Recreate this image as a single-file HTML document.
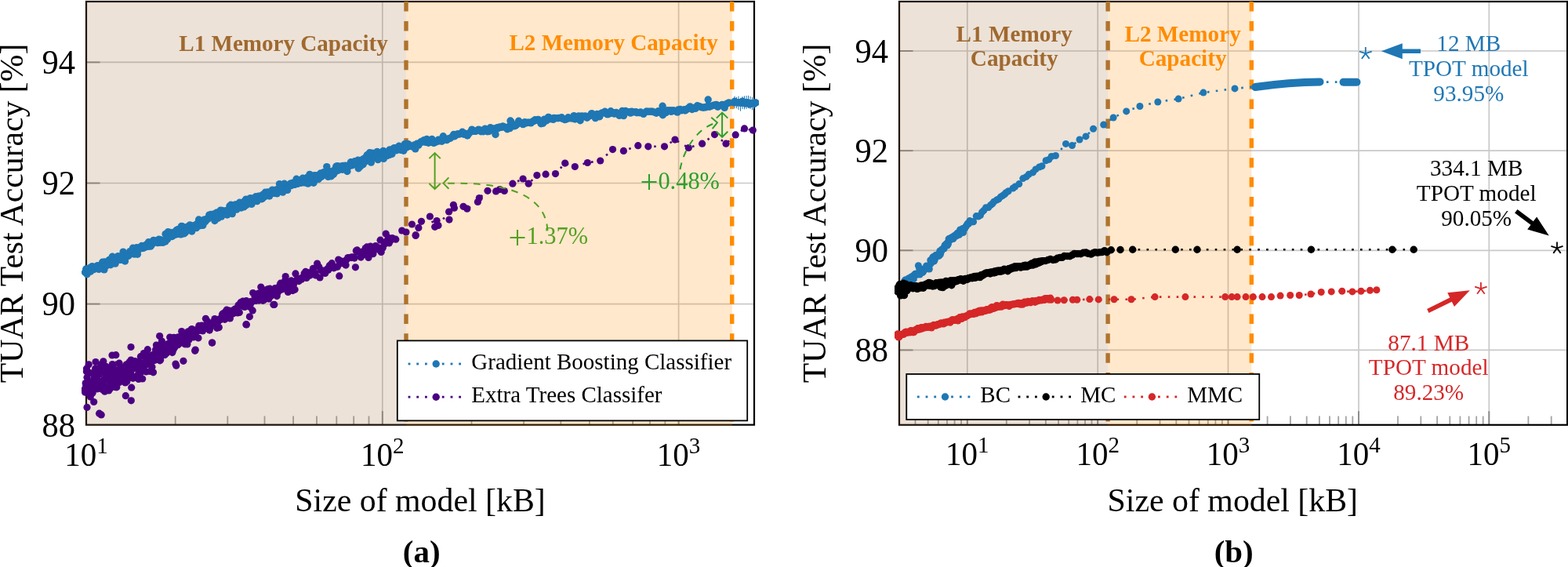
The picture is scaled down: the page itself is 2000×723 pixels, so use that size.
<!DOCTYPE html>
<html lang="en"><head><meta charset="utf-8"><title>TUAR Test Accuracy vs model size</title>
<style>html,body{margin:0;padding:0;background:#fff;width:2000px;height:723px;overflow:hidden}svg{display:block}</style>
</head><body>
<svg width="2000" height="723" viewBox="0 0 2000 723">
<rect x="0" y="0" width="2000" height="723" fill="#ffffff"/>
<g stroke="#c9c9c9" stroke-width="1.7"><line x1="110.0" y1="387.6" x2="962.0" y2="387.6"/><line x1="110.0" y1="233.5" x2="962.0" y2="233.5"/><line x1="110.0" y1="79.4" x2="962.0" y2="79.4"/><line x1="487.8" y1="2.0" x2="487.8" y2="541.7"/><line x1="865.6" y1="2.0" x2="865.6" y2="541.7"/></g>
<g stroke="#8a8a8a" stroke-width="1.9"><line x1="110.0" y1="387.6" x2="127.5" y2="387.6"/><line x1="110.0" y1="233.5" x2="127.5" y2="233.5"/><line x1="110.0" y1="79.4" x2="127.5" y2="79.4"/><line x1="487.8" y1="541.7" x2="487.8" y2="524.2"/><line x1="865.6" y1="541.7" x2="865.6" y2="524.2"/></g><g stroke="#a3a3a3" stroke-width="1.8"><line x1="223.7" y1="541.7" x2="223.7" y2="530.5"/><line x1="290.3" y1="541.7" x2="290.3" y2="530.5"/><line x1="337.5" y1="541.7" x2="337.5" y2="530.5"/><line x1="374.1" y1="541.7" x2="374.1" y2="530.5"/><line x1="404.0" y1="541.7" x2="404.0" y2="530.5"/><line x1="429.3" y1="541.7" x2="429.3" y2="530.5"/><line x1="451.2" y1="541.7" x2="451.2" y2="530.5"/><line x1="470.5" y1="541.7" x2="470.5" y2="530.5"/><line x1="601.5" y1="541.7" x2="601.5" y2="530.5"/><line x1="668.1" y1="541.7" x2="668.1" y2="530.5"/><line x1="715.3" y1="541.7" x2="715.3" y2="530.5"/><line x1="751.9" y1="541.7" x2="751.9" y2="530.5"/><line x1="781.8" y1="541.7" x2="781.8" y2="530.5"/><line x1="807.1" y1="541.7" x2="807.1" y2="530.5"/><line x1="829.0" y1="541.7" x2="829.0" y2="530.5"/><line x1="848.3" y1="541.7" x2="848.3" y2="530.5"/></g>
<rect x="110.0" y="2.0" width="852.0" height="539.7" fill="none" stroke="#000" stroke-width="2.2"/>
<rect x="108.8" y="0.8" width="409.20" height="542.1" fill="rgb(160,110,60)" fill-opacity="0.2"/><rect x="518.00" y="0.8" width="415.75" height="542.1" fill="rgb(255,140,0)" fill-opacity="0.2"/>
<text transform="translate(228.30 64.50) scale(0.9670 1)" font-weight="bold" font-family="'Liberation Serif', 'Times New Roman', serif" font-size="30.09" fill="#a0692f">L1 Memory Capacity</text>
<text transform="translate(649.50 63.90) scale(0.9670 1)" font-weight="bold" font-family="'Liberation Serif', 'Times New Roman', serif" font-size="30.06" fill="#ff8c00">L2 Memory Capacity</text>
<line x1="518.00" y1="2.0" x2="518.00" y2="541.7" stroke="#af732d" stroke-width="5.4" stroke-dasharray="12.5 12.4"/>
<line x1="933.70" y1="2.0" x2="933.70" y2="541.7" stroke="#ff8c00" stroke-width="5.4" stroke-dasharray="12.5 12.4"/>
<clipPath id="clipA"><rect x="104.0" y="2.0" width="864.0" height="539.7"/></clipPath>
<g clip-path="url(#clipA)">
<path d="M108.6 347.2 L109.8 343.3 L110.3 342.9 L111.0 349.7 L112.8 343.2 L113.3 346.0 L114.3 341.8 L115.5 346.3 L117.0 342.3 L117.6 339.6 L118.2 342.6 L119.6 343.6 L120.0 342.1 L121.5 340.6 L122.6 342.2 L123.5 340.1 L124.2 338.9 L125.2 338.6 L126.0 343.4 L127.2 340.0 L128.9 339.9 L129.8 339.5 L130.7 334.2 L131.5 338.9 L132.9 343.9 L133.6 334.0 L134.4 339.0 L135.2 338.9 L136.4 338.3 L137.6 333.8 L138.6 333.9 L139.2 331.5 L140.2 334.0 L141.1 337.7 L142.2 331.3 L143.3 327.2 L144.7 332.3 L145.8 334.1 L146.9 330.5 L147.1 336.1 L148.9 329.8 L149.2 330.2 L150.6 326.6 L151.4 328.3 L152.2 331.2 L153.9 330.6 L154.5 331.4 L155.8 329.5 L156.4 328.6 L157.1 321.1 L158.7 323.9 L159.5 333.0 L160.3 324.1 L161.7 326.9 L162.5 324.5 L163.9 326.1 L164.9 323.9 L165.8 320.6 L166.1 321.1 L167.8 323.6 L168.6 320.9 L169.5 316.3 L170.2 323.1 L171.4 324.1 L172.3 323.4 L173.6 323.0 L174.3 315.8 L175.4 324.2 L176.5 318.6 L177.9 315.8 L178.6 316.8 L179.9 315.4 L180.9 313.4 L181.4 316.6 L183.0 316.3 L183.8 314.9 L184.7 315.5 L185.3 314.2 L186.2 312.3 L187.2 312.2 L188.8 314.4 L189.5 308.8 L190.7 310.6 L192.0 314.1 L192.6 311.8 L193.2 312.7 L194.4 310.3 L195.8 306.4 L196.1 308.4 L197.8 309.0 L198.5 307.2 L199.0 307.6 L200.0 308.1 L201.2 309.6 L202.6 305.3 L203.6 309.4 L204.7 305.7 L205.3 308.2 L206.5 308.1 L207.7 309.4 L208.2 307.3 L209.0 306.9 L211.0 308.0 L211.1 298.4 L212.3 299.9 L213.6 304.9 L214.3 295.8 L215.8 301.6 L216.8 301.2 L217.2 296.4 L218.6 297.4 L219.1 301.6 L220.6 300.7 L221.8 297.0 L222.7 296.0 L223.9 295.8 L224.0 299.1 L225.2 293.4 L226.9 296.7 L227.3 292.4 L228.7 298.5 L229.4 296.2 L230.7 298.9 L231.4 288.5 L232.5 288.8 L233.2 292.3 L234.5 297.9 L235.8 289.9 L236.3 296.6 L237.8 292.7 L238.1 292.6 L239.1 293.7 L240.3 288.5 L241.8 288.9 L242.2 287.0 L243.9 290.1 L244.7 295.0 L245.7 288.0 L246.8 290.0 L247.4 289.4 L248.5 288.3 L249.2 286.9 L250.5 290.6 L251.9 286.3 L252.2 284.5 L253.6 280.0 L255.0 287.7 L255.8 286.3 L256.4 284.7 L257.2 283.0 L258.8 287.4 L259.4 282.3 L260.4 280.1 L261.8 282.8 L262.4 280.0 L263.7 280.2 L264.8 278.6 L265.4 278.9 L266.8 274.1 L267.1 276.1 L268.8 275.5 L269.1 273.5 L271.0 275.8 L271.6 277.1 L272.8 273.0 L273.9 281.5 L274.8 274.5 L275.5 275.7 L276.3 271.1 L277.7 271.1 L278.1 278.2 L279.9 274.5 L280.2 272.1 L281.2 268.2 L282.5 276.1 L283.2 268.5 L284.5 269.3 L285.7 269.6 L286.5 270.8 L287.5 269.3 L288.5 268.7 L289.8 274.0 L290.2 268.4 L291.1 269.0 L292.9 262.8 L294.0 268.8 L294.5 261.3 L295.9 264.0 L296.3 272.6 L297.1 263.2 L298.5 264.9 L299.8 261.2 L300.8 260.9 L301.8 267.1 L302.7 262.2 L303.2 263.1 L304.2 262.1 L305.6 258.3 L306.9 261.6 L307.5 265.0 L309.0 259.1 L309.8 262.3 L310.8 263.9 L311.6 256.9 L312.4 262.7 L313.7 254.1 L314.3 261.4 L315.2 258.1 L316.8 255.3 L317.7 257.8 L319.0 255.8 L319.4 252.6 L320.5 260.1 L321.1 260.1 L322.6 253.1 L323.0 254.6 L324.6 253.7 L325.1 254.2 L326.2 250.8 L327.9 256.6 L328.5 253.7 L329.7 250.2 L330.8 251.2 L331.6 250.2 L332.7 251.5 L333.4 253.7 L334.4 253.5 L335.4 248.1 L336.8 251.1 L337.3 248.1 L338.4 245.3 L339.8 246.8 L340.7 249.6 L341.9 244.9 L342.6 247.0 L343.7 250.0 L344.4 246.5 L345.3 246.1 L346.4 245.1 L347.4 242.1 L348.6 246.0 L349.9 246.3 L350.3 246.3 L351.5 242.4 L352.1 242.2 L353.2 246.9 L354.8 241.0 L355.5 242.5 L356.5 234.6 L357.5 239.3 L358.3 238.9 L359.8 236.9 L360.7 245.1 L361.4 239.4 L362.7 234.3 L363.6 239.5 L364.6 238.9 L365.5 238.7 L366.6 242.4 L368.0 237.6 L368.3 237.7 L369.1 235.4 L370.8 233.9 L371.2 236.6 L372.3 236.0 L373.5 233.3 L374.7 234.1 L375.8 235.3 L376.3 235.3 L377.4 232.9 L378.1 228.3 L379.6 234.4 L380.1 232.5 L381.3 230.6 L382.0 231.7 L383.2 229.4 L384.0 233.3 L385.3 231.2 L386.2 227.3 L387.4 232.7 L388.8 232.8 L389.9 230.6 L390.7 232.4 L391.7 226.4 L392.8 234.1 L394.0 231.0 L394.1 233.1 L395.0 222.4 L396.9 225.0 L397.6 227.2 L398.7 227.6 L400.0 233.3 L400.3 227.6 L401.0 223.8 L402.7 228.1 L403.9 226.7 L404.3 223.8 L405.1 227.9 L406.3 228.4 L407.9 223.6 L408.9 221.0 L409.9 225.4 L410.0 224.5 L411.2 221.9 L412.8 219.7 L413.2 221.1 L414.9 222.7 L415.7 221.2 L416.8 212.6 L417.5 222.3 L418.6 225.4 L419.1 221.0 L420.8 221.8 L421.3 219.2 L422.5 224.8 L423.3 218.5 L424.6 222.2 L425.4 222.3 L426.7 216.9 L427.0 219.7 L428.7 212.2 L429.7 217.4 L430.5 211.6 L431.4 217.3 L432.3 214.2 L433.2 214.6 L434.2 212.3 L435.5 215.3 L436.7 216.3 L437.3 211.4 L438.5 212.7 L439.1 214.2 L440.5 211.3 L441.1 216.6 L442.9 218.5 L443.0 213.1 L444.4 211.7 L445.1 212.2 L446.8 208.8 L447.5 206.7 L448.3 208.4 L449.4 210.8 L450.1 208.9 L452.0 206.5 L452.6 205.8 L453.6 208.4 L454.6 207.1 L455.6 209.8 L456.6 204.2 L457.2 214.7 L458.8 206.1 L459.5 212.3 L460.4 204.7 L461.4 206.9 L462.7 203.3 L463.1 209.8 L464.9 206.1 L465.2 201.8 L466.8 202.8 L467.0 205.4 L468.2 197.8 L469.9 200.1 L470.2 200.4 L471.5 194.8 L472.4 202.2 L473.4 207.1 L474.8 195.2 L475.8 196.6 L476.8 200.2 L477.9 200.6 L478.5 200.2 L479.5 198.0 L480.1 197.1 L481.1 193.4 L482.1 203.6 L483.4 201.6 L484.3 195.3 L485.3 196.8 L486.3 195.7 L487.8 194.8 L488.9 192.4 L489.3 202.4 L490.3 194.5 L491.4 196.9 L492.9 193.6 L493.7 194.8 L494.1 198.5 L495.7 193.6 L496.9 197.4 L497.1 190.9 L498.9 194.4 L499.9 196.4 L500.1 194.4 L501.5 189.8 L502.7 188.7 L504.0 190.1 L504.8 189.0 L505.8 191.7 L507.0 189.8 L507.5 188.0 L508.9 186.3 L509.9 187.7 L510.4 189.4 L511.5 191.4 L512.4 190.1 L513.1 190.8 L514.8 192.2 L515.7 189.4 L516.2 183.7 L517.3 187.1 L518.8 183.4 L519.3 187.7 L520.6 183.6 L523.1 186.2 L524.3 186.3 L525.7 186.9 L528.3 185.0 L529.8 189.9 L531.9 183.2 L533.9 185.1 L536.1 182.0 L536.9 180.7 L539.7 180.9 L540.9 178.6 L543.2 181.4 L544.4 177.4 L546.5 182.2 L547.8 180.2 L549.1 181.4 L551.0 177.5 L553.2 182.4 L554.5 181.6 L556.9 180.7 L559.1 178.2 L560.2 179.9 L563.0 177.7 L563.6 180.2 L565.3 173.8 L567.1 176.8 L569.8 178.6 L570.9 177.2 L573.0 176.7 L574.4 176.1 L577.0 174.1 L578.8 171.4 L580.1 173.8 L582.8 171.1 L584.2 171.0 L585.1 171.1 L587.0 170.8 L589.7 168.3 L591.6 171.2 L592.5 170.0 L595.3 171.4 L596.2 173.0 L597.0 171.0 L598.3 170.0 L600.2 168.3 L601.9 165.1 L604.1 167.2 L606.1 167.3 L607.1 167.2 L609.8 166.3 L610.4 165.1 L613.5 167.7 L614.0 166.2 L616.4 167.8 L618.8 164.1 L619.5 166.1 L621.7 167.7 L623.8 167.5 L625.5 162.8 L627.6 164.6 L629.3 164.0 L630.8 167.0 L632.0 171.5 L632.7 165.1 L634.3 162.6 L635.6 163.4 L637.3 162.0 L639.6 162.4 L641.3 161.0 L642.9 161.8 L645.8 162.9 L647.0 164.8 L648.5 161.7 L650.3 163.6 L651.0 154.0 L652.2 155.8 L654.8 160.8 L656.4 160.8 L657.6 160.1 L659.0 158.9 L661.6 154.3 L663.4 156.5 L665.7 157.7 L667.2 158.6 L669.3 155.6 L670.9 157.0 L672.4 156.4 L673.6 156.2 L675.5 156.1 L677.1 156.9 L680.0 154.5 L680.5 154.7 L682.5 152.8 L684.9 153.3 L686.5 152.4 L688.6 154.6 L690.1 157.8 L692.6 157.2 L694.1 152.2 L696.2 154.2 L697.4 153.4 L699.4 149.5 L699.9 149.6 L701.9 151.8 L705.6 152.4 L706.6 150.4 L708.6 150.8 L711.6 150.8 L713.1 150.5 L716.4 149.8 L717.5 151.4 L720.5 152.6 L723.1 151.8 L724.7 149.8 L727.0 150.8 L729.5 151.0 L732.1 147.6 L733.4 152.0 L736.1 149.0 L738.1 147.9 L740.1 153.8 L742.2 147.9 L744.2 148.8 L746.4 147.9 L748.8 150.3 L751.8 147.9 L754.1 145.8 L754.8 144.6 L757.0 146.9 L759.4 150.6 L761.8 145.4 L764.8 148.7 L766.2 145.2 L767.9 143.9 L771.6 142.2 L773.7 145.3 L775.0 145.9 L777.2 145.0 L779.0 141.8 L782.3 143.8 L783.5 145.1 L786.0 143.5 L788.9 144.8 L790.0 147.4 L793.7 141.5 L795.5 147.6 L797.9 141.5 L800.1 142.8 L802.3 142.6 L804.2 144.1 L805.7 142.3 L808.4 142.9 L811.2 142.8 L812.2 143.7 L815.4 143.7 L817.1 143.0 L819.5 144.5 L820.8 145.4 L824.3 142.2 L825.2 142.3 L827.9 142.3 L830.4 142.2 L832.2 142.2 L834.9 143.2 L837.2 144.2 L839.6 141.8 L842.0 143.5 L842.9 142.1 L845.1 135.3 L845.4 146.7 L848.1 142.9 L849.4 143.6 L851.6 140.8 L855.1 140.8 L856.1 142.4 L858.9 140.7 L861.0 141.6 L864.0 143.1 L865.0 140.0 L867.7 139.5 L869.2 140.9 L872.8 139.8 L873.9 141.0 L876.2 139.5 L878.0 137.9 L880.2 135.9 L882.8 139.5 L885.9 137.4 L887.1 138.4 L889.5 134.8 L892.3 135.7 L894.4 136.8 L897.0 137.2 L899.1 136.7 L900.5 136.8 L903.2 127.0 L903.3 134.7 L904.9 136.2 L907.4 135.2 L910.2 134.3 L912.5 133.9 L913.7 133.4 L915.5 136.2 L917.8 134.6 L921.1 133.4 L923.0 134.3 L924.2 137.4 L927.1 132.1 L929.6 131.0 L935.7 131.2 L937.0 128.8 L937.6 131.1 L938.7 129.6 L939.1 130.4 L940.1 131.2 L940.9 131.2 L941.3 130.8 L942.7 130.3 L943.4 130.1 L944.0 130.2 L944.9 131.7 L945.7 130.8 L946.5 131.5 L947.1 128.7 L948.0 130.4 L948.6 130.9 L949.6 130.4 L950.6 132.5 L951.1 129.9 L952.2 131.3 L952.8 131.6 L953.7 130.3 L954.2 131.7 L955.3 131.4 L956.1 133.5 L956.7 132.3 L957.5 131.2 L958.5 132.1 L958.9 131.6 L960.2 131.0 L960.7 131.9 L961.4 131.9 L962.4 132.8 L963.2 130.4 L964.1 130.5 L964.9 131.1" fill="none" stroke="#1f77b4" stroke-width="2.6" stroke-dasharray="2.6 8.3"/>
<g fill="#1f77b4"><circle cx="108.6" cy="347.2" r="4.7"/><circle cx="109.8" cy="343.3" r="4.7"/><circle cx="110.3" cy="342.9" r="4.7"/><circle cx="111.0" cy="349.7" r="4.7"/><circle cx="112.8" cy="343.2" r="4.7"/><circle cx="113.3" cy="346.0" r="4.7"/><circle cx="114.3" cy="341.8" r="4.7"/><circle cx="115.5" cy="346.3" r="4.7"/><circle cx="117.0" cy="342.3" r="4.7"/><circle cx="117.6" cy="339.6" r="4.7"/><circle cx="118.2" cy="342.6" r="4.7"/><circle cx="119.6" cy="343.6" r="4.7"/><circle cx="120.0" cy="342.1" r="4.7"/><circle cx="121.5" cy="340.6" r="4.7"/><circle cx="122.6" cy="342.2" r="4.7"/><circle cx="123.5" cy="340.1" r="4.7"/><circle cx="124.2" cy="338.9" r="4.7"/><circle cx="125.2" cy="338.6" r="4.7"/><circle cx="126.0" cy="343.4" r="4.7"/><circle cx="127.2" cy="340.0" r="4.7"/><circle cx="128.9" cy="339.9" r="4.7"/><circle cx="129.8" cy="339.5" r="4.7"/><circle cx="130.7" cy="334.2" r="4.7"/><circle cx="131.5" cy="338.9" r="4.7"/><circle cx="132.9" cy="343.9" r="4.7"/><circle cx="133.6" cy="334.0" r="4.7"/><circle cx="134.4" cy="339.0" r="4.7"/><circle cx="135.2" cy="338.9" r="4.7"/><circle cx="136.4" cy="338.3" r="4.7"/><circle cx="137.6" cy="333.8" r="4.7"/><circle cx="138.6" cy="333.9" r="4.7"/><circle cx="139.2" cy="331.5" r="4.7"/><circle cx="140.2" cy="334.0" r="4.7"/><circle cx="141.1" cy="337.7" r="4.7"/><circle cx="142.2" cy="331.3" r="4.7"/><circle cx="143.3" cy="327.2" r="4.7"/><circle cx="144.7" cy="332.3" r="4.7"/><circle cx="145.8" cy="334.1" r="4.7"/><circle cx="146.9" cy="330.5" r="4.7"/><circle cx="147.1" cy="336.1" r="4.7"/><circle cx="148.9" cy="329.8" r="4.7"/><circle cx="149.2" cy="330.2" r="4.7"/><circle cx="150.6" cy="326.6" r="4.7"/><circle cx="151.4" cy="328.3" r="4.7"/><circle cx="152.2" cy="331.2" r="4.7"/><circle cx="153.9" cy="330.6" r="4.7"/><circle cx="154.5" cy="331.4" r="4.7"/><circle cx="155.8" cy="329.5" r="4.7"/><circle cx="156.4" cy="328.6" r="4.7"/><circle cx="157.1" cy="321.1" r="4.7"/><circle cx="158.7" cy="323.9" r="4.7"/><circle cx="159.5" cy="333.0" r="4.7"/><circle cx="160.3" cy="324.1" r="4.7"/><circle cx="161.7" cy="326.9" r="4.7"/><circle cx="162.5" cy="324.5" r="4.7"/><circle cx="163.9" cy="326.1" r="4.7"/><circle cx="164.9" cy="323.9" r="4.7"/><circle cx="165.8" cy="320.6" r="4.7"/><circle cx="166.1" cy="321.1" r="4.7"/><circle cx="167.8" cy="323.6" r="4.7"/><circle cx="168.6" cy="320.9" r="4.7"/><circle cx="169.5" cy="316.3" r="4.7"/><circle cx="170.2" cy="323.1" r="4.7"/><circle cx="171.4" cy="324.1" r="4.7"/><circle cx="172.3" cy="323.4" r="4.7"/><circle cx="173.6" cy="323.0" r="4.7"/><circle cx="174.3" cy="315.8" r="4.7"/><circle cx="175.4" cy="324.2" r="4.7"/><circle cx="176.5" cy="318.6" r="4.7"/><circle cx="177.9" cy="315.8" r="4.7"/><circle cx="178.6" cy="316.8" r="4.7"/><circle cx="179.9" cy="315.4" r="4.7"/><circle cx="180.9" cy="313.4" r="4.7"/><circle cx="181.4" cy="316.6" r="4.7"/><circle cx="183.0" cy="316.3" r="4.7"/><circle cx="183.8" cy="314.9" r="4.7"/><circle cx="184.7" cy="315.5" r="4.7"/><circle cx="185.3" cy="314.2" r="4.7"/><circle cx="186.2" cy="312.3" r="4.7"/><circle cx="187.2" cy="312.2" r="4.7"/><circle cx="188.8" cy="314.4" r="4.7"/><circle cx="189.5" cy="308.8" r="4.7"/><circle cx="190.7" cy="310.6" r="4.7"/><circle cx="192.0" cy="314.1" r="4.7"/><circle cx="192.6" cy="311.8" r="4.7"/><circle cx="193.2" cy="312.7" r="4.7"/><circle cx="194.4" cy="310.3" r="4.7"/><circle cx="195.8" cy="306.4" r="4.7"/><circle cx="196.1" cy="308.4" r="4.7"/><circle cx="197.8" cy="309.0" r="4.7"/><circle cx="198.5" cy="307.2" r="4.7"/><circle cx="199.0" cy="307.6" r="4.7"/><circle cx="200.0" cy="308.1" r="4.7"/><circle cx="201.2" cy="309.6" r="4.7"/><circle cx="202.6" cy="305.3" r="4.7"/><circle cx="203.6" cy="309.4" r="4.7"/><circle cx="204.7" cy="305.7" r="4.7"/><circle cx="205.3" cy="308.2" r="4.7"/><circle cx="206.5" cy="308.1" r="4.7"/><circle cx="207.7" cy="309.4" r="4.7"/><circle cx="208.2" cy="307.3" r="4.7"/><circle cx="209.0" cy="306.9" r="4.7"/><circle cx="211.0" cy="308.0" r="4.7"/><circle cx="211.1" cy="298.4" r="4.7"/><circle cx="212.3" cy="299.9" r="4.7"/><circle cx="213.6" cy="304.9" r="4.7"/><circle cx="214.3" cy="295.8" r="4.7"/><circle cx="215.8" cy="301.6" r="4.7"/><circle cx="216.8" cy="301.2" r="4.7"/><circle cx="217.2" cy="296.4" r="4.7"/><circle cx="218.6" cy="297.4" r="4.7"/><circle cx="219.1" cy="301.6" r="4.7"/><circle cx="220.6" cy="300.7" r="4.7"/><circle cx="221.8" cy="297.0" r="4.7"/><circle cx="222.7" cy="296.0" r="4.7"/><circle cx="223.9" cy="295.8" r="4.7"/><circle cx="224.0" cy="299.1" r="4.7"/><circle cx="225.2" cy="293.4" r="4.7"/><circle cx="226.9" cy="296.7" r="4.7"/><circle cx="227.3" cy="292.4" r="4.7"/><circle cx="228.7" cy="298.5" r="4.7"/><circle cx="229.4" cy="296.2" r="4.7"/><circle cx="230.7" cy="298.9" r="4.7"/><circle cx="231.4" cy="288.5" r="4.7"/><circle cx="232.5" cy="288.8" r="4.7"/><circle cx="233.2" cy="292.3" r="4.7"/><circle cx="234.5" cy="297.9" r="4.7"/><circle cx="235.8" cy="289.9" r="4.7"/><circle cx="236.3" cy="296.6" r="4.7"/><circle cx="237.8" cy="292.7" r="4.7"/><circle cx="238.1" cy="292.6" r="4.7"/><circle cx="239.1" cy="293.7" r="4.7"/><circle cx="240.3" cy="288.5" r="4.7"/><circle cx="241.8" cy="288.9" r="4.7"/><circle cx="242.2" cy="287.0" r="4.7"/><circle cx="243.9" cy="290.1" r="4.7"/><circle cx="244.7" cy="295.0" r="4.7"/><circle cx="245.7" cy="288.0" r="4.7"/><circle cx="246.8" cy="290.0" r="4.7"/><circle cx="247.4" cy="289.4" r="4.7"/><circle cx="248.5" cy="288.3" r="4.7"/><circle cx="249.2" cy="286.9" r="4.7"/><circle cx="250.5" cy="290.6" r="4.7"/><circle cx="251.9" cy="286.3" r="4.7"/><circle cx="252.2" cy="284.5" r="4.7"/><circle cx="253.6" cy="280.0" r="4.7"/><circle cx="255.0" cy="287.7" r="4.7"/><circle cx="255.8" cy="286.3" r="4.7"/><circle cx="256.4" cy="284.7" r="4.7"/><circle cx="257.2" cy="283.0" r="4.7"/><circle cx="258.8" cy="287.4" r="4.7"/><circle cx="259.4" cy="282.3" r="4.7"/><circle cx="260.4" cy="280.1" r="4.7"/><circle cx="261.8" cy="282.8" r="4.7"/><circle cx="262.4" cy="280.0" r="4.7"/><circle cx="263.7" cy="280.2" r="4.7"/><circle cx="264.8" cy="278.6" r="4.7"/><circle cx="265.4" cy="278.9" r="4.7"/><circle cx="266.8" cy="274.1" r="4.7"/><circle cx="267.1" cy="276.1" r="4.7"/><circle cx="268.8" cy="275.5" r="4.7"/><circle cx="269.1" cy="273.5" r="4.7"/><circle cx="271.0" cy="275.8" r="4.7"/><circle cx="271.6" cy="277.1" r="4.7"/><circle cx="272.8" cy="273.0" r="4.7"/><circle cx="273.9" cy="281.5" r="4.7"/><circle cx="274.8" cy="274.5" r="4.7"/><circle cx="275.5" cy="275.7" r="4.7"/><circle cx="276.3" cy="271.1" r="4.7"/><circle cx="277.7" cy="271.1" r="4.7"/><circle cx="278.1" cy="278.2" r="4.7"/><circle cx="279.9" cy="274.5" r="4.7"/><circle cx="280.2" cy="272.1" r="4.7"/><circle cx="281.2" cy="268.2" r="4.7"/><circle cx="282.5" cy="276.1" r="4.7"/><circle cx="283.2" cy="268.5" r="4.7"/><circle cx="284.5" cy="269.3" r="4.7"/><circle cx="285.7" cy="269.6" r="4.7"/><circle cx="286.5" cy="270.8" r="4.7"/><circle cx="287.5" cy="269.3" r="4.7"/><circle cx="288.5" cy="268.7" r="4.7"/><circle cx="289.8" cy="274.0" r="4.7"/><circle cx="290.2" cy="268.4" r="4.7"/><circle cx="291.1" cy="269.0" r="4.7"/><circle cx="292.9" cy="262.8" r="4.7"/><circle cx="294.0" cy="268.8" r="4.7"/><circle cx="294.5" cy="261.3" r="4.7"/><circle cx="295.9" cy="264.0" r="4.7"/><circle cx="296.3" cy="272.6" r="4.7"/><circle cx="297.1" cy="263.2" r="4.7"/><circle cx="298.5" cy="264.9" r="4.7"/><circle cx="299.8" cy="261.2" r="4.7"/><circle cx="300.8" cy="260.9" r="4.7"/><circle cx="301.8" cy="267.1" r="4.7"/><circle cx="302.7" cy="262.2" r="4.7"/><circle cx="303.2" cy="263.1" r="4.7"/><circle cx="304.2" cy="262.1" r="4.7"/><circle cx="305.6" cy="258.3" r="4.7"/><circle cx="306.9" cy="261.6" r="4.7"/><circle cx="307.5" cy="265.0" r="4.7"/><circle cx="309.0" cy="259.1" r="4.7"/><circle cx="309.8" cy="262.3" r="4.7"/><circle cx="310.8" cy="263.9" r="4.7"/><circle cx="311.6" cy="256.9" r="4.7"/><circle cx="312.4" cy="262.7" r="4.7"/><circle cx="313.7" cy="254.1" r="4.7"/><circle cx="314.3" cy="261.4" r="4.7"/><circle cx="315.2" cy="258.1" r="4.7"/><circle cx="316.8" cy="255.3" r="4.7"/><circle cx="317.7" cy="257.8" r="4.7"/><circle cx="319.0" cy="255.8" r="4.7"/><circle cx="319.4" cy="252.6" r="4.7"/><circle cx="320.5" cy="260.1" r="4.7"/><circle cx="321.1" cy="260.1" r="4.7"/><circle cx="322.6" cy="253.1" r="4.7"/><circle cx="323.0" cy="254.6" r="4.7"/><circle cx="324.6" cy="253.7" r="4.7"/><circle cx="325.1" cy="254.2" r="4.7"/><circle cx="326.2" cy="250.8" r="4.7"/><circle cx="327.9" cy="256.6" r="4.7"/><circle cx="328.5" cy="253.7" r="4.7"/><circle cx="329.7" cy="250.2" r="4.7"/><circle cx="330.8" cy="251.2" r="4.7"/><circle cx="331.6" cy="250.2" r="4.7"/><circle cx="332.7" cy="251.5" r="4.7"/><circle cx="333.4" cy="253.7" r="4.7"/><circle cx="334.4" cy="253.5" r="4.7"/><circle cx="335.4" cy="248.1" r="4.7"/><circle cx="336.8" cy="251.1" r="4.7"/><circle cx="337.3" cy="248.1" r="4.7"/><circle cx="338.4" cy="245.3" r="4.7"/><circle cx="339.8" cy="246.8" r="4.7"/><circle cx="340.7" cy="249.6" r="4.7"/><circle cx="341.9" cy="244.9" r="4.7"/><circle cx="342.6" cy="247.0" r="4.7"/><circle cx="343.7" cy="250.0" r="4.7"/><circle cx="344.4" cy="246.5" r="4.7"/><circle cx="345.3" cy="246.1" r="4.7"/><circle cx="346.4" cy="245.1" r="4.7"/><circle cx="347.4" cy="242.1" r="4.7"/><circle cx="348.6" cy="246.0" r="4.7"/><circle cx="349.9" cy="246.3" r="4.7"/><circle cx="350.3" cy="246.3" r="4.7"/><circle cx="351.5" cy="242.4" r="4.7"/><circle cx="352.1" cy="242.2" r="4.7"/><circle cx="353.2" cy="246.9" r="4.7"/><circle cx="354.8" cy="241.0" r="4.7"/><circle cx="355.5" cy="242.5" r="4.7"/><circle cx="356.5" cy="234.6" r="4.7"/><circle cx="357.5" cy="239.3" r="4.7"/><circle cx="358.3" cy="238.9" r="4.7"/><circle cx="359.8" cy="236.9" r="4.7"/><circle cx="360.7" cy="245.1" r="4.7"/><circle cx="361.4" cy="239.4" r="4.7"/><circle cx="362.7" cy="234.3" r="4.7"/><circle cx="363.6" cy="239.5" r="4.7"/><circle cx="364.6" cy="238.9" r="4.7"/><circle cx="365.5" cy="238.7" r="4.7"/><circle cx="366.6" cy="242.4" r="4.7"/><circle cx="368.0" cy="237.6" r="4.7"/><circle cx="368.3" cy="237.7" r="4.7"/><circle cx="369.1" cy="235.4" r="4.7"/><circle cx="370.8" cy="233.9" r="4.7"/><circle cx="371.2" cy="236.6" r="4.7"/><circle cx="372.3" cy="236.0" r="4.7"/><circle cx="373.5" cy="233.3" r="4.7"/><circle cx="374.7" cy="234.1" r="4.7"/><circle cx="375.8" cy="235.3" r="4.7"/><circle cx="376.3" cy="235.3" r="4.7"/><circle cx="377.4" cy="232.9" r="4.7"/><circle cx="378.1" cy="228.3" r="4.7"/><circle cx="379.6" cy="234.4" r="4.7"/><circle cx="380.1" cy="232.5" r="4.7"/><circle cx="381.3" cy="230.6" r="4.7"/><circle cx="382.0" cy="231.7" r="4.7"/><circle cx="383.2" cy="229.4" r="4.7"/><circle cx="384.0" cy="233.3" r="4.7"/><circle cx="385.3" cy="231.2" r="4.7"/><circle cx="386.2" cy="227.3" r="4.7"/><circle cx="387.4" cy="232.7" r="4.7"/><circle cx="388.8" cy="232.8" r="4.7"/><circle cx="389.9" cy="230.6" r="4.7"/><circle cx="390.7" cy="232.4" r="4.7"/><circle cx="391.7" cy="226.4" r="4.7"/><circle cx="392.8" cy="234.1" r="4.7"/><circle cx="394.0" cy="231.0" r="4.7"/><circle cx="394.1" cy="233.1" r="4.7"/><circle cx="395.0" cy="222.4" r="4.7"/><circle cx="396.9" cy="225.0" r="4.7"/><circle cx="397.6" cy="227.2" r="4.7"/><circle cx="398.7" cy="227.6" r="4.7"/><circle cx="400.0" cy="233.3" r="4.7"/><circle cx="400.3" cy="227.6" r="4.7"/><circle cx="401.0" cy="223.8" r="4.7"/><circle cx="402.7" cy="228.1" r="4.7"/><circle cx="403.9" cy="226.7" r="4.7"/><circle cx="404.3" cy="223.8" r="4.7"/><circle cx="405.1" cy="227.9" r="4.7"/><circle cx="406.3" cy="228.4" r="4.7"/><circle cx="407.9" cy="223.6" r="4.7"/><circle cx="408.9" cy="221.0" r="4.7"/><circle cx="409.9" cy="225.4" r="4.7"/><circle cx="410.0" cy="224.5" r="4.7"/><circle cx="411.2" cy="221.9" r="4.7"/><circle cx="412.8" cy="219.7" r="4.7"/><circle cx="413.2" cy="221.1" r="4.7"/><circle cx="414.9" cy="222.7" r="4.7"/><circle cx="415.7" cy="221.2" r="4.7"/><circle cx="416.8" cy="212.6" r="4.7"/><circle cx="417.5" cy="222.3" r="4.7"/><circle cx="418.6" cy="225.4" r="4.7"/><circle cx="419.1" cy="221.0" r="4.7"/><circle cx="420.8" cy="221.8" r="4.7"/><circle cx="421.3" cy="219.2" r="4.7"/><circle cx="422.5" cy="224.8" r="4.7"/><circle cx="423.3" cy="218.5" r="4.7"/><circle cx="424.6" cy="222.2" r="4.7"/><circle cx="425.4" cy="222.3" r="4.7"/><circle cx="426.7" cy="216.9" r="4.7"/><circle cx="427.0" cy="219.7" r="4.7"/><circle cx="428.7" cy="212.2" r="4.7"/><circle cx="429.7" cy="217.4" r="4.7"/><circle cx="430.5" cy="211.6" r="4.7"/><circle cx="431.4" cy="217.3" r="4.7"/><circle cx="432.3" cy="214.2" r="4.7"/><circle cx="433.2" cy="214.6" r="4.7"/><circle cx="434.2" cy="212.3" r="4.7"/><circle cx="435.5" cy="215.3" r="4.7"/><circle cx="436.7" cy="216.3" r="4.7"/><circle cx="437.3" cy="211.4" r="4.7"/><circle cx="438.5" cy="212.7" r="4.7"/><circle cx="439.1" cy="214.2" r="4.7"/><circle cx="440.5" cy="211.3" r="4.7"/><circle cx="441.1" cy="216.6" r="4.7"/><circle cx="442.9" cy="218.5" r="4.7"/><circle cx="443.0" cy="213.1" r="4.7"/><circle cx="444.4" cy="211.7" r="4.7"/><circle cx="445.1" cy="212.2" r="4.7"/><circle cx="446.8" cy="208.8" r="4.7"/><circle cx="447.5" cy="206.7" r="4.7"/><circle cx="448.3" cy="208.4" r="4.7"/><circle cx="449.4" cy="210.8" r="4.7"/><circle cx="450.1" cy="208.9" r="4.7"/><circle cx="452.0" cy="206.5" r="4.7"/><circle cx="452.6" cy="205.8" r="4.7"/><circle cx="453.6" cy="208.4" r="4.7"/><circle cx="454.6" cy="207.1" r="4.7"/><circle cx="455.6" cy="209.8" r="4.7"/><circle cx="456.6" cy="204.2" r="4.7"/><circle cx="457.2" cy="214.7" r="4.7"/><circle cx="458.8" cy="206.1" r="4.7"/><circle cx="459.5" cy="212.3" r="4.7"/><circle cx="460.4" cy="204.7" r="4.7"/><circle cx="461.4" cy="206.9" r="4.7"/><circle cx="462.7" cy="203.3" r="4.7"/><circle cx="463.1" cy="209.8" r="4.7"/><circle cx="464.9" cy="206.1" r="4.7"/><circle cx="465.2" cy="201.8" r="4.7"/><circle cx="466.8" cy="202.8" r="4.7"/><circle cx="467.0" cy="205.4" r="4.7"/><circle cx="468.2" cy="197.8" r="4.7"/><circle cx="469.9" cy="200.1" r="4.7"/><circle cx="470.2" cy="200.4" r="4.7"/><circle cx="471.5" cy="194.8" r="4.7"/><circle cx="472.4" cy="202.2" r="4.7"/><circle cx="473.4" cy="207.1" r="4.7"/><circle cx="474.8" cy="195.2" r="4.7"/><circle cx="475.8" cy="196.6" r="4.7"/><circle cx="476.8" cy="200.2" r="4.7"/><circle cx="477.9" cy="200.6" r="4.7"/><circle cx="478.5" cy="200.2" r="4.7"/><circle cx="479.5" cy="198.0" r="4.7"/><circle cx="480.1" cy="197.1" r="4.7"/><circle cx="481.1" cy="193.4" r="4.7"/><circle cx="482.1" cy="203.6" r="4.7"/><circle cx="483.4" cy="201.6" r="4.7"/><circle cx="484.3" cy="195.3" r="4.7"/><circle cx="485.3" cy="196.8" r="4.7"/><circle cx="486.3" cy="195.7" r="4.7"/><circle cx="487.8" cy="194.8" r="4.7"/><circle cx="488.9" cy="192.4" r="4.7"/><circle cx="489.3" cy="202.4" r="4.7"/><circle cx="490.3" cy="194.5" r="4.7"/><circle cx="491.4" cy="196.9" r="4.7"/><circle cx="492.9" cy="193.6" r="4.7"/><circle cx="493.7" cy="194.8" r="4.7"/><circle cx="494.1" cy="198.5" r="4.7"/><circle cx="495.7" cy="193.6" r="4.7"/><circle cx="496.9" cy="197.4" r="4.7"/><circle cx="497.1" cy="190.9" r="4.7"/><circle cx="498.9" cy="194.4" r="4.7"/><circle cx="499.9" cy="196.4" r="4.7"/><circle cx="500.1" cy="194.4" r="4.7"/><circle cx="501.5" cy="189.8" r="4.7"/><circle cx="502.7" cy="188.7" r="4.7"/><circle cx="504.0" cy="190.1" r="4.7"/><circle cx="504.8" cy="189.0" r="4.7"/><circle cx="505.8" cy="191.7" r="4.7"/><circle cx="507.0" cy="189.8" r="4.7"/><circle cx="507.5" cy="188.0" r="4.7"/><circle cx="508.9" cy="186.3" r="4.7"/><circle cx="509.9" cy="187.7" r="4.7"/><circle cx="510.4" cy="189.4" r="4.7"/><circle cx="511.5" cy="191.4" r="4.7"/><circle cx="512.4" cy="190.1" r="4.7"/><circle cx="513.1" cy="190.8" r="4.7"/><circle cx="514.8" cy="192.2" r="4.7"/><circle cx="515.7" cy="189.4" r="4.7"/><circle cx="516.2" cy="183.7" r="4.7"/><circle cx="517.3" cy="187.1" r="4.7"/><circle cx="518.8" cy="183.4" r="4.7"/><circle cx="519.3" cy="187.7" r="4.7"/><circle cx="520.6" cy="183.6" r="4.7"/><circle cx="523.1" cy="186.2" r="4.7"/><circle cx="524.3" cy="186.3" r="4.7"/><circle cx="525.7" cy="186.9" r="4.7"/><circle cx="528.3" cy="185.0" r="4.7"/><circle cx="529.8" cy="189.9" r="4.7"/><circle cx="531.9" cy="183.2" r="4.7"/><circle cx="533.9" cy="185.1" r="4.7"/><circle cx="536.1" cy="182.0" r="4.7"/><circle cx="536.9" cy="180.7" r="4.7"/><circle cx="539.7" cy="180.9" r="4.7"/><circle cx="540.9" cy="178.6" r="4.7"/><circle cx="543.2" cy="181.4" r="4.7"/><circle cx="544.4" cy="177.4" r="4.7"/><circle cx="546.5" cy="182.2" r="4.7"/><circle cx="547.8" cy="180.2" r="4.7"/><circle cx="549.1" cy="181.4" r="4.7"/><circle cx="551.0" cy="177.5" r="4.7"/><circle cx="553.2" cy="182.4" r="4.7"/><circle cx="554.5" cy="181.6" r="4.7"/><circle cx="556.9" cy="180.7" r="4.7"/><circle cx="559.1" cy="178.2" r="4.7"/><circle cx="560.2" cy="179.9" r="4.7"/><circle cx="563.0" cy="177.7" r="4.7"/><circle cx="563.6" cy="180.2" r="4.7"/><circle cx="565.3" cy="173.8" r="4.7"/><circle cx="567.1" cy="176.8" r="4.7"/><circle cx="569.8" cy="178.6" r="4.7"/><circle cx="570.9" cy="177.2" r="4.7"/><circle cx="573.0" cy="176.7" r="4.7"/><circle cx="574.4" cy="176.1" r="4.7"/><circle cx="577.0" cy="174.1" r="4.7"/><circle cx="578.8" cy="171.4" r="4.7"/><circle cx="580.1" cy="173.8" r="4.7"/><circle cx="582.8" cy="171.1" r="4.7"/><circle cx="584.2" cy="171.0" r="4.7"/><circle cx="585.1" cy="171.1" r="4.7"/><circle cx="587.0" cy="170.8" r="4.7"/><circle cx="589.7" cy="168.3" r="4.7"/><circle cx="591.6" cy="171.2" r="4.7"/><circle cx="592.5" cy="170.0" r="4.7"/><circle cx="595.3" cy="171.4" r="4.7"/><circle cx="596.2" cy="173.0" r="4.7"/><circle cx="598.3" cy="170.0" r="4.7"/><circle cx="600.2" cy="168.3" r="4.7"/><circle cx="601.9" cy="165.1" r="4.7"/><circle cx="604.1" cy="167.2" r="4.7"/><circle cx="606.1" cy="167.3" r="4.7"/><circle cx="607.1" cy="167.2" r="4.7"/><circle cx="609.8" cy="166.3" r="4.7"/><circle cx="610.4" cy="165.1" r="4.7"/><circle cx="613.5" cy="167.7" r="4.7"/><circle cx="614.0" cy="166.2" r="4.7"/><circle cx="616.4" cy="167.8" r="4.7"/><circle cx="618.8" cy="164.1" r="4.7"/><circle cx="619.5" cy="166.1" r="4.7"/><circle cx="621.7" cy="167.7" r="4.7"/><circle cx="623.8" cy="167.5" r="4.7"/><circle cx="625.5" cy="162.8" r="4.7"/><circle cx="627.6" cy="164.6" r="4.7"/><circle cx="629.3" cy="164.0" r="4.7"/><circle cx="630.8" cy="167.0" r="4.7"/><circle cx="632.7" cy="165.1" r="4.7"/><circle cx="634.3" cy="162.6" r="4.7"/><circle cx="635.6" cy="163.4" r="4.7"/><circle cx="637.3" cy="162.0" r="4.7"/><circle cx="639.6" cy="162.4" r="4.7"/><circle cx="641.3" cy="161.0" r="4.7"/><circle cx="642.9" cy="161.8" r="4.7"/><circle cx="645.8" cy="162.9" r="4.7"/><circle cx="647.0" cy="164.8" r="4.7"/><circle cx="648.5" cy="161.7" r="4.7"/><circle cx="650.3" cy="163.6" r="4.7"/><circle cx="652.2" cy="155.8" r="4.7"/><circle cx="654.8" cy="160.8" r="4.7"/><circle cx="656.4" cy="160.8" r="4.7"/><circle cx="657.6" cy="160.1" r="4.7"/><circle cx="659.0" cy="158.9" r="4.7"/><circle cx="661.6" cy="154.3" r="4.7"/><circle cx="663.4" cy="156.5" r="4.7"/><circle cx="665.7" cy="157.7" r="4.7"/><circle cx="667.2" cy="158.6" r="4.7"/><circle cx="669.3" cy="155.6" r="4.7"/><circle cx="670.9" cy="157.0" r="4.7"/><circle cx="672.4" cy="156.4" r="4.7"/><circle cx="673.6" cy="156.2" r="4.7"/><circle cx="675.5" cy="156.1" r="4.7"/><circle cx="677.1" cy="156.9" r="4.7"/><circle cx="680.0" cy="154.5" r="4.7"/><circle cx="680.5" cy="154.7" r="4.7"/><circle cx="682.5" cy="152.8" r="4.7"/><circle cx="684.9" cy="153.3" r="4.7"/><circle cx="686.5" cy="152.4" r="4.7"/><circle cx="688.6" cy="154.6" r="4.7"/><circle cx="690.1" cy="157.8" r="4.7"/><circle cx="692.6" cy="157.2" r="4.7"/><circle cx="694.1" cy="152.2" r="4.7"/><circle cx="696.2" cy="154.2" r="4.7"/><circle cx="697.4" cy="153.4" r="4.7"/><circle cx="699.4" cy="149.5" r="4.7"/><circle cx="699.9" cy="149.6" r="4.7"/><circle cx="701.9" cy="151.8" r="4.7"/><circle cx="705.6" cy="152.4" r="4.7"/><circle cx="706.6" cy="150.4" r="4.7"/><circle cx="708.6" cy="150.8" r="4.7"/><circle cx="711.6" cy="150.8" r="4.7"/><circle cx="713.1" cy="150.5" r="4.7"/><circle cx="716.4" cy="149.8" r="4.7"/><circle cx="717.5" cy="151.4" r="4.7"/><circle cx="720.5" cy="152.6" r="4.7"/><circle cx="723.1" cy="151.8" r="4.7"/><circle cx="724.7" cy="149.8" r="4.7"/><circle cx="727.0" cy="150.8" r="4.7"/><circle cx="729.5" cy="151.0" r="4.7"/><circle cx="732.1" cy="147.6" r="4.7"/><circle cx="733.4" cy="152.0" r="4.7"/><circle cx="736.1" cy="149.0" r="4.7"/><circle cx="738.1" cy="147.9" r="4.7"/><circle cx="740.1" cy="153.8" r="4.7"/><circle cx="742.2" cy="147.9" r="4.7"/><circle cx="744.2" cy="148.8" r="4.7"/><circle cx="746.4" cy="147.9" r="4.7"/><circle cx="748.8" cy="150.3" r="4.7"/><circle cx="751.8" cy="147.9" r="4.7"/><circle cx="754.1" cy="145.8" r="4.7"/><circle cx="754.8" cy="144.6" r="4.7"/><circle cx="757.0" cy="146.9" r="4.7"/><circle cx="759.4" cy="150.6" r="4.7"/><circle cx="761.8" cy="145.4" r="4.7"/><circle cx="764.8" cy="148.7" r="4.7"/><circle cx="766.2" cy="145.2" r="4.7"/><circle cx="767.9" cy="143.9" r="4.7"/><circle cx="771.6" cy="142.2" r="4.7"/><circle cx="773.7" cy="145.3" r="4.7"/><circle cx="775.0" cy="145.9" r="4.7"/><circle cx="777.2" cy="145.0" r="4.7"/><circle cx="779.0" cy="141.8" r="4.7"/><circle cx="782.3" cy="143.8" r="4.7"/><circle cx="783.5" cy="145.1" r="4.7"/><circle cx="786.0" cy="143.5" r="4.7"/><circle cx="788.9" cy="144.8" r="4.7"/><circle cx="790.0" cy="147.4" r="4.7"/><circle cx="793.7" cy="141.5" r="4.7"/><circle cx="795.5" cy="147.6" r="4.7"/><circle cx="797.9" cy="141.5" r="4.7"/><circle cx="800.1" cy="142.8" r="4.7"/><circle cx="802.3" cy="142.6" r="4.7"/><circle cx="804.2" cy="144.1" r="4.7"/><circle cx="805.7" cy="142.3" r="4.7"/><circle cx="808.4" cy="142.9" r="4.7"/><circle cx="811.2" cy="142.8" r="4.7"/><circle cx="812.2" cy="143.7" r="4.7"/><circle cx="815.4" cy="143.7" r="4.7"/><circle cx="817.1" cy="143.0" r="4.7"/><circle cx="819.5" cy="144.5" r="4.7"/><circle cx="820.8" cy="145.4" r="4.7"/><circle cx="824.3" cy="142.2" r="4.7"/><circle cx="825.2" cy="142.3" r="4.7"/><circle cx="827.9" cy="142.3" r="4.7"/><circle cx="830.4" cy="142.2" r="4.7"/><circle cx="832.2" cy="142.2" r="4.7"/><circle cx="834.9" cy="143.2" r="4.7"/><circle cx="837.2" cy="144.2" r="4.7"/><circle cx="839.6" cy="141.8" r="4.7"/><circle cx="842.0" cy="143.5" r="4.7"/><circle cx="842.9" cy="142.1" r="4.7"/><circle cx="845.4" cy="146.7" r="4.7"/><circle cx="848.1" cy="142.9" r="4.7"/><circle cx="849.4" cy="143.6" r="4.7"/><circle cx="851.6" cy="140.8" r="4.7"/><circle cx="855.1" cy="140.8" r="4.7"/><circle cx="856.1" cy="142.4" r="4.7"/><circle cx="858.9" cy="140.7" r="4.7"/><circle cx="861.0" cy="141.6" r="4.7"/><circle cx="864.0" cy="143.1" r="4.7"/><circle cx="865.0" cy="140.0" r="4.7"/><circle cx="867.7" cy="139.5" r="4.7"/><circle cx="869.2" cy="140.9" r="4.7"/><circle cx="872.8" cy="139.8" r="4.7"/><circle cx="873.9" cy="141.0" r="4.7"/><circle cx="876.2" cy="139.5" r="4.7"/><circle cx="878.0" cy="137.9" r="4.7"/><circle cx="880.2" cy="135.9" r="4.7"/><circle cx="882.8" cy="139.5" r="4.7"/><circle cx="885.9" cy="137.4" r="4.7"/><circle cx="887.1" cy="138.4" r="4.7"/><circle cx="889.5" cy="134.8" r="4.7"/><circle cx="892.3" cy="135.7" r="4.7"/><circle cx="894.4" cy="136.8" r="4.7"/><circle cx="897.0" cy="137.2" r="4.7"/><circle cx="899.1" cy="136.7" r="4.7"/><circle cx="900.5" cy="136.8" r="4.7"/><circle cx="903.3" cy="134.7" r="4.7"/><circle cx="904.9" cy="136.2" r="4.7"/><circle cx="907.4" cy="135.2" r="4.7"/><circle cx="910.2" cy="134.3" r="4.7"/><circle cx="912.5" cy="133.9" r="4.7"/><circle cx="913.7" cy="133.4" r="4.7"/><circle cx="915.5" cy="136.2" r="4.7"/><circle cx="917.8" cy="134.6" r="4.7"/><circle cx="921.1" cy="133.4" r="4.7"/><circle cx="923.0" cy="134.3" r="4.7"/><circle cx="924.2" cy="137.4" r="4.7"/><circle cx="927.1" cy="132.1" r="4.7"/><circle cx="929.6" cy="131.0" r="4.7"/><circle cx="845.1" cy="135.3" r="4.7"/><circle cx="903.2" cy="127.0" r="4.7"/><circle cx="651.0" cy="154.0" r="4.7"/><circle cx="597.0" cy="171.0" r="4.7"/><circle cx="632.0" cy="171.5" r="4.7"/></g>
<g fill="#1f77b4"><circle cx="935.7" cy="131.2" r="4.2"/><circle cx="937.0" cy="128.8" r="4.2"/><circle cx="937.6" cy="131.1" r="4.2"/><circle cx="938.7" cy="129.6" r="4.2"/><circle cx="939.1" cy="130.4" r="4.2"/><circle cx="940.1" cy="131.2" r="4.2"/><circle cx="940.9" cy="131.2" r="4.2"/><circle cx="941.3" cy="130.8" r="4.2"/><circle cx="942.7" cy="130.3" r="4.2"/><circle cx="943.4" cy="130.1" r="4.2"/><circle cx="944.0" cy="130.2" r="4.2"/><circle cx="944.9" cy="131.7" r="4.2"/><circle cx="945.7" cy="130.8" r="4.2"/><circle cx="946.5" cy="131.5" r="4.2"/><circle cx="947.1" cy="128.7" r="4.2"/><circle cx="948.0" cy="130.4" r="4.2"/><circle cx="948.6" cy="130.9" r="4.2"/><circle cx="949.6" cy="130.4" r="4.2"/><circle cx="950.6" cy="132.5" r="4.2"/><circle cx="951.1" cy="129.9" r="4.2"/><circle cx="952.2" cy="131.3" r="4.2"/><circle cx="952.8" cy="131.6" r="4.2"/><circle cx="953.7" cy="130.3" r="4.2"/><circle cx="954.2" cy="131.7" r="4.2"/><circle cx="955.3" cy="131.4" r="4.2"/><circle cx="956.1" cy="133.5" r="4.2"/><circle cx="956.7" cy="132.3" r="4.2"/><circle cx="957.5" cy="131.2" r="4.2"/><circle cx="958.5" cy="132.1" r="4.2"/><circle cx="958.9" cy="131.6" r="4.2"/><circle cx="960.2" cy="131.0" r="4.2"/><circle cx="960.7" cy="131.9" r="4.2"/><circle cx="961.4" cy="131.9" r="4.2"/><circle cx="962.4" cy="132.8" r="4.2"/><circle cx="963.2" cy="130.4" r="4.2"/><circle cx="964.1" cy="130.5" r="4.2"/><circle cx="964.9" cy="131.1" r="4.2"/></g>
<g stroke="#1f77b4" stroke-width="1"><line x1="937.0" y1="122.6" x2="937.0" y2="138.2"/><line x1="939.5" y1="123.8" x2="939.5" y2="138.2"/><line x1="942.0" y1="122.7" x2="942.0" y2="140.0"/><line x1="944.5" y1="124.9" x2="944.5" y2="141.7"/><line x1="947.0" y1="123.1" x2="947.0" y2="139.1"/><line x1="949.5" y1="122.4" x2="949.5" y2="139.3"/><line x1="952.0" y1="122.0" x2="952.0" y2="139.0"/><line x1="954.5" y1="121.9" x2="954.5" y2="138.0"/><line x1="957.0" y1="122.9" x2="957.0" y2="139.0"/><line x1="959.5" y1="124.1" x2="959.5" y2="140.3"/><line x1="962.0" y1="125.6" x2="962.0" y2="138.7"/></g>
<path d="M107.8 496.7 L108.6 500.2 L109.2 488.5 L109.7 491.8 L110.1 489.7 L110.4 473.8 L111.0 481.2 L111.6 497.7 L111.9 497.0 L112.4 500.0 L113.0 495.3 L113.2 464.8 L113.8 491.3 L114.2 491.9 L115.2 475.5 L115.3 506.1 L115.8 486.8 L116.3 497.1 L117.0 495.4 L117.4 493.7 L118.1 501.1 L118.4 486.3 L118.8 496.6 L119.5 491.8 L120.2 475.7 L120.3 481.2 L121.2 475.7 L121.6 470.1 L122.3 472.0 L122.6 491.4 L122.9 473.2 L123.8 495.9 L123.9 484.1 L124.6 483.9 L125.2 474.4 L125.6 489.7 L126.0 477.3 L126.4 492.0 L126.8 492.3 L127.5 469.2 L128.2 489.9 L128.8 465.4 L129.1 492.8 L129.7 464.6 L130.1 474.6 L130.7 496.8 L131.1 486.4 L131.4 490.8 L131.8 460.8 L132.4 491.3 L133.2 475.6 L133.6 499.2 L133.8 483.9 L134.3 482.2 L135.3 467.4 L135.7 474.0 L136.0 482.3 L136.5 495.5 L137.0 494.5 L137.4 479.7 L138.3 470.8 L138.3 470.0 L138.8 497.9 L139.7 484.2 L140.0 471.1 L140.3 495.7 L140.9 486.3 L141.8 488.1 L141.8 489.0 L142.3 483.9 L143.3 475.4 L143.3 464.5 L144.1 467.1 L144.2 471.4 L144.9 484.6 L145.5 472.3 L146.0 487.0 L146.7 493.5 L146.8 487.6 L147.3 493.6 L147.8 452.7 L148.8 493.8 L149.2 480.2 L149.4 479.5 L150.0 471.9 L150.5 479.8 L150.7 478.6 L151.5 472.4 L152.1 463.2 L152.3 487.4 L152.9 481.2 L153.7 469.1 L154.1 472.9 L154.4 482.3 L155.3 472.0 L155.4 478.4 L156.1 483.7 L156.4 482.2 L156.7 474.5 L157.7 468.6 L157.9 472.3 L158.6 480.6 L158.9 473.4 L159.6 487.0 L159.8 488.0 L160.5 485.5 L161.0 479.5 L161.3 464.8 L161.8 486.6 L162.4 479.4 L162.9 468.4 L163.2 466.7 L164.2 468.3 L164.5 474.0 L165.0 461.8 L165.7 481.3 L165.9 469.6 L166.7 476.3 L167.1 459.1 L167.7 494.2 L168.0 479.3 L168.5 470.6 L169.0 462.2 L169.7 482.3 L169.8 467.8 L170.4 467.3 L171.3 463.5 L171.8 460.6 L172.1 469.4 L172.4 470.0 L173.2 466.4 L173.2 461.2 L173.9 480.6 L174.2 481.3 L175.2 462.3 L175.6 478.4 L175.8 468.9 L176.7 467.7 L176.8 483.4 L177.4 482.4 L177.7 464.5 L178.5 472.9 L178.9 462.6 L179.4 454.7 L180.0 473.5 L180.7 470.0 L181.0 472.0 L181.7 483.0 L182.2 463.6 L182.6 469.2 L183.1 466.3 L183.4 450.5 L183.9 463.1 L184.6 452.2 L185.2 464.2 L185.6 455.6 L185.7 454.9 L186.4 473.9 L186.8 459.7 L187.4 460.3 L188.0 464.6 L188.3 445.7 L189.1 454.5 L189.2 455.6 L190.0 464.0 L190.5 462.4 L191.0 455.5 L191.4 473.5 L192.2 455.5 L192.2 453.5 L192.8 462.1 L193.8 453.2 L194.0 467.9 L194.2 460.7 L195.3 452.4 L195.5 474.8 L195.8 454.3 L196.7 456.6 L197.1 459.0 L197.3 459.0 L198.1 459.0 L198.5 445.9 L198.7 456.1 L199.4 440.1 L199.8 453.0 L200.4 453.7 L200.8 458.4 L201.3 448.1 L201.8 455.9 L202.3 450.2 L203.2 453.5 L203.3 446.0 L204.0 459.8 L204.7 458.7 L205.0 439.5 L205.5 448.9 L205.8 447.8 L206.4 435.0 L207.2 439.5 L207.3 446.9 L207.9 439.2 L208.4 448.8 L209.1 452.4 L209.7 441.6 L210.0 450.6 L210.3 452.6 L210.7 442.8 L211.6 450.3 L211.9 450.1 L212.4 450.3 L212.8 443.9 L213.3 444.6 L214.2 438.6 L214.7 445.8 L214.8 445.2 L215.5 443.0 L216.3 440.8 L216.4 437.7 L216.7 430.1 L217.2 437.7 L218.1 431.7 L218.7 438.8 L218.9 435.5 L219.8 449.6 L219.9 435.9 L220.8 446.6 L220.8 434.0 L221.6 430.3 L222.0 443.1 L222.8 442.9 L222.8 436.8 L223.4 430.7 L223.8 433.9 L224.8 436.7 L224.9 440.0 L225.3 438.4 L226.2 437.3 L226.6 433.1 L227.1 439.7 L227.4 429.8 L227.9 431.2 L228.7 434.6 L228.9 437.3 L229.5 435.6 L229.9 435.6 L230.4 430.7 L231.3 437.0 L231.7 422.5 L232.1 428.9 L232.7 425.4 L233.1 426.3 L233.4 433.2 L233.8 434.7 L234.5 426.1 L235.2 430.3 L235.8 438.8 L235.9 431.4 L236.7 436.3 L236.9 434.4 L237.7 434.5 L238.2 427.4 L238.5 430.4 L238.9 439.0 L239.5 424.7 L240.0 422.8 L240.7 425.0 L240.8 433.4 L241.5 427.5 L242.2 429.7 L242.6 424.9 L243.0 425.4 L243.7 420.7 L244.2 425.2 L244.7 419.6 L244.9 427.4 L245.4 425.8 L245.8 430.0 L246.3 423.7 L247.0 429.4 L247.4 429.7 L248.2 429.6 L248.6 427.2 L249.0 425.5 L249.4 424.6 L250.1 420.8 L250.9 422.3 L251.9 421.9 L253.0 431.0 L253.8 415.4 L255.2 419.1 L256.1 421.1 L257.2 415.0 L258.5 422.0 L259.5 415.3 L260.1 419.6 L261.5 417.4 L262.4 406.3 L264.0 418.7 L264.6 409.7 L266.2 416.3 L267.3 421.1 L267.9 418.0 L269.3 413.2 L270.6 412.7 L271.6 412.7 L272.4 410.4 L273.9 406.6 L275.0 409.8 L275.5 409.2 L276.7 418.3 L278.0 410.4 L279.3 417.6 L279.9 406.8 L281.5 407.6 L282.7 405.4 L283.4 401.0 L284.3 399.9 L285.5 402.3 L286.7 407.3 L287.9 397.3 L289.1 395.2 L290.4 400.4 L291.5 397.0 L292.5 396.1 L293.4 406.0 L294.6 397.8 L295.8 399.9 L297.0 396.2 L297.6 399.8 L298.7 395.1 L299.6 394.2 L301.2 397.1 L302.4 392.9 L303.1 398.9 L304.1 389.0 L305.3 398.5 L307.0 385.7 L307.8 388.4 L309.0 390.3 L309.8 384.1 L310.8 386.1 L312.2 391.4 L312.8 386.6 L314.2 383.7 L315.5 389.9 L316.8 386.2 L317.7 387.9 L318.8 391.5 L319.5 384.5 L320.9 385.3 L322.2 395.9 L322.7 373.6 L324.1 383.2 L325.1 378.3 L326.3 383.4 L327.1 377.4 L329.0 378.3 L329.6 374.2 L330.5 383.1 L332.2 379.2 L333.2 377.3 L333.7 373.7 L335.4 383.3 L336.2 369.8 L337.2 382.0 L338.2 378.5 L339.3 373.9 L340.9 376.0 L341.9 368.5 L343.0 381.1 L344.2 368.2 L344.9 371.0 L345.9 377.3 L347.4 370.6 L348.3 373.0 L349.3 372.3 L350.7 367.7 L351.3 368.3 L353.2 377.6 L354.1 373.2 L355.1 371.2 L356.2 368.3 L356.9 363.7 L357.9 361.2 L359.6 369.1 L360.7 363.3 L361.3 364.5 L362.9 360.0 L363.8 357.2 L365.0 364.8 L365.7 359.8 L367.4 372.4 L368.5 370.5 L369.4 361.3 L370.6 367.3 L371.5 357.9 L372.7 366.5 L373.3 370.6 L374.5 363.1 L376.1 369.3 L377.0 348.9 L378.1 357.8 L379.1 356.2 L381.2 358.6 L382.5 355.4 L384.6 356.2 L386.2 353.6 L388.1 348.8 L389.8 346.4 L391.0 354.4 L392.8 347.6 L395.1 351.2 L396.7 350.0 L398.3 346.4 L399.3 342.4 L401.5 347.9 L402.7 351.1 L404.6 336.1 L406.8 340.2 L408.0 354.0 L409.4 344.8 L411.9 345.0 L413.1 348.0 L414.8 348.5 L417.2 343.2 L418.8 344.2 L420.3 338.7 L421.8 340.6 L423.3 335.7 L425.7 341.8 L427.2 340.8 L428.2 340.6 L430.4 340.2 L431.7 331.0 L433.5 336.2 L434.8 332.9 L437.2 333.7 L438.6 336.1 L441.1 338.1 L441.8 331.6 L443.8 328.5 L445.6 328.5 L447.8 328.6 L448.5 327.9 L451.3 327.8 L452.1 329.1 L454.3 319.7 L455.6 318.9 L457.3 321.5 L458.9 321.4 L460.3 328.1 L462.9 320.8 L464.4 324.6 L466.2 316.6 L468.0 314.9 L470.0 328.4 L471.2 322.1 L472.5 314.2 L474.7 316.4 L475.9 323.7 L477.4 317.6 L479.1 313.5 L481.6 317.9 L482.9 315.8 L485.1 306.2 L486.2 321.4 L488.3 316.1 L490.4 311.3 L491.7 309.2 L492.7 308.0 L495.2 303.2 L496.3 310.0 L498.3 306.4 L500.3 303.5 L504.8 305.2 L512.7 294.0 L518.0 296.0 L525.5 286.0 L530.2 300.4 L533.9 290.4 L537.5 282.3 L548.4 276.0 L554.7 289.3 L557.1 281.6 L559.0 287.5 L572.6 270.0 L573.0 280.1 L578.4 261.3 L579.4 265.2 L591.0 263.3 L595.8 266.2 L609.4 257.4 L611.3 252.6 L622.0 243.3 L632.6 243.9 L637.5 241.6 L643.3 243.5 L653.9 234.2 L667.1 228.0 L674.2 234.2 L684.9 223.6 L696.1 222.2 L708.5 221.6 L720.7 208.1 L733.3 212.5 L749.4 207.5 L765.7 205.0 L781.5 190.6 L795.4 192.4 L813.8 185.7 L826.8 186.8 L847.5 186.8 L861.0 178.1 L878.3 188.5 L895.6 183.2 L911.5 171.6 L926.0 183.2 L938.2 171.9 L949.5 163.9 L960.3 166.1" fill="none" stroke="#4b0082" stroke-width="2.6" stroke-dasharray="2.6 8.3"/>
<g fill="#4b0082"><circle cx="107.8" cy="496.7" r="4.6"/><circle cx="108.6" cy="500.2" r="4.6"/><circle cx="109.2" cy="488.5" r="4.6"/><circle cx="109.7" cy="491.8" r="4.6"/><circle cx="110.1" cy="489.7" r="4.6"/><circle cx="110.4" cy="473.8" r="4.6"/><circle cx="111.0" cy="481.2" r="4.6"/><circle cx="111.6" cy="497.7" r="4.6"/><circle cx="111.9" cy="497.0" r="4.6"/><circle cx="112.4" cy="500.0" r="4.6"/><circle cx="113.0" cy="495.3" r="4.6"/><circle cx="113.2" cy="464.8" r="4.6"/><circle cx="113.8" cy="491.3" r="4.6"/><circle cx="114.2" cy="491.9" r="4.6"/><circle cx="115.2" cy="475.5" r="4.6"/><circle cx="115.3" cy="506.1" r="4.6"/><circle cx="115.8" cy="486.8" r="4.6"/><circle cx="116.3" cy="497.1" r="4.6"/><circle cx="117.0" cy="495.4" r="4.6"/><circle cx="117.4" cy="493.7" r="4.6"/><circle cx="118.1" cy="501.1" r="4.6"/><circle cx="118.4" cy="486.3" r="4.6"/><circle cx="118.8" cy="496.6" r="4.6"/><circle cx="119.5" cy="491.8" r="4.6"/><circle cx="120.2" cy="475.7" r="4.6"/><circle cx="120.3" cy="481.2" r="4.6"/><circle cx="121.2" cy="475.7" r="4.6"/><circle cx="121.6" cy="470.1" r="4.6"/><circle cx="122.3" cy="472.0" r="4.6"/><circle cx="122.6" cy="491.4" r="4.6"/><circle cx="122.9" cy="473.2" r="4.6"/><circle cx="123.8" cy="495.9" r="4.6"/><circle cx="123.9" cy="484.1" r="4.6"/><circle cx="124.6" cy="483.9" r="4.6"/><circle cx="125.2" cy="474.4" r="4.6"/><circle cx="125.6" cy="489.7" r="4.6"/><circle cx="126.0" cy="477.3" r="4.6"/><circle cx="126.4" cy="492.0" r="4.6"/><circle cx="126.8" cy="492.3" r="4.6"/><circle cx="127.5" cy="469.2" r="4.6"/><circle cx="128.2" cy="489.9" r="4.6"/><circle cx="128.8" cy="465.4" r="4.6"/><circle cx="129.1" cy="492.8" r="4.6"/><circle cx="129.7" cy="464.6" r="4.6"/><circle cx="130.1" cy="474.6" r="4.6"/><circle cx="130.7" cy="496.8" r="4.6"/><circle cx="131.1" cy="486.4" r="4.6"/><circle cx="131.4" cy="490.8" r="4.6"/><circle cx="131.8" cy="460.8" r="4.6"/><circle cx="132.4" cy="491.3" r="4.6"/><circle cx="133.2" cy="475.6" r="4.6"/><circle cx="133.6" cy="499.2" r="4.6"/><circle cx="133.8" cy="483.9" r="4.6"/><circle cx="134.3" cy="482.2" r="4.6"/><circle cx="135.3" cy="467.4" r="4.6"/><circle cx="135.7" cy="474.0" r="4.6"/><circle cx="136.0" cy="482.3" r="4.6"/><circle cx="136.5" cy="495.5" r="4.6"/><circle cx="137.0" cy="494.5" r="4.6"/><circle cx="137.4" cy="479.7" r="4.6"/><circle cx="138.3" cy="470.8" r="4.6"/><circle cx="138.3" cy="470.0" r="4.6"/><circle cx="138.8" cy="497.9" r="4.6"/><circle cx="139.7" cy="484.2" r="4.6"/><circle cx="140.0" cy="471.1" r="4.6"/><circle cx="140.3" cy="495.7" r="4.6"/><circle cx="140.9" cy="486.3" r="4.6"/><circle cx="141.8" cy="488.1" r="4.6"/><circle cx="141.8" cy="489.0" r="4.6"/><circle cx="142.3" cy="483.9" r="4.6"/><circle cx="143.3" cy="475.4" r="4.6"/><circle cx="143.3" cy="464.5" r="4.6"/><circle cx="144.1" cy="467.1" r="4.6"/><circle cx="144.2" cy="471.4" r="4.6"/><circle cx="144.9" cy="484.6" r="4.6"/><circle cx="145.5" cy="472.3" r="4.6"/><circle cx="146.0" cy="487.0" r="4.6"/><circle cx="146.8" cy="487.6" r="4.6"/><circle cx="146.7" cy="493.5" r="4.6"/><circle cx="147.3" cy="493.6" r="4.6"/><circle cx="147.8" cy="452.7" r="4.6"/><circle cx="148.8" cy="493.8" r="4.6"/><circle cx="149.2" cy="480.2" r="4.6"/><circle cx="149.4" cy="479.5" r="4.6"/><circle cx="150.0" cy="471.9" r="4.6"/><circle cx="150.5" cy="479.8" r="4.6"/><circle cx="150.7" cy="478.6" r="4.6"/><circle cx="151.5" cy="472.4" r="4.6"/><circle cx="152.1" cy="463.2" r="4.6"/><circle cx="152.3" cy="487.4" r="4.6"/><circle cx="152.9" cy="481.2" r="4.6"/><circle cx="153.7" cy="469.1" r="4.6"/><circle cx="154.1" cy="472.9" r="4.6"/><circle cx="154.4" cy="482.3" r="4.6"/><circle cx="155.3" cy="472.0" r="4.6"/><circle cx="155.4" cy="478.4" r="4.6"/><circle cx="156.1" cy="483.7" r="4.6"/><circle cx="156.4" cy="482.2" r="4.6"/><circle cx="156.7" cy="474.5" r="4.6"/><circle cx="157.7" cy="468.6" r="4.6"/><circle cx="157.9" cy="472.3" r="4.6"/><circle cx="158.6" cy="480.6" r="4.6"/><circle cx="158.9" cy="473.4" r="4.6"/><circle cx="159.6" cy="487.0" r="4.6"/><circle cx="159.8" cy="488.0" r="4.6"/><circle cx="160.5" cy="485.5" r="4.6"/><circle cx="161.0" cy="479.5" r="4.6"/><circle cx="161.3" cy="464.8" r="4.6"/><circle cx="161.8" cy="486.6" r="4.6"/><circle cx="162.4" cy="479.4" r="4.6"/><circle cx="162.9" cy="468.4" r="4.6"/><circle cx="163.2" cy="466.7" r="4.6"/><circle cx="164.2" cy="468.3" r="4.6"/><circle cx="164.5" cy="474.0" r="4.6"/><circle cx="165.0" cy="461.8" r="4.6"/><circle cx="165.7" cy="481.3" r="4.6"/><circle cx="165.9" cy="469.6" r="4.6"/><circle cx="166.7" cy="476.3" r="4.6"/><circle cx="167.1" cy="459.1" r="4.6"/><circle cx="167.7" cy="494.2" r="4.6"/><circle cx="168.0" cy="479.3" r="4.6"/><circle cx="168.5" cy="470.6" r="4.6"/><circle cx="169.0" cy="462.2" r="4.6"/><circle cx="169.7" cy="482.3" r="4.6"/><circle cx="169.8" cy="467.8" r="4.6"/><circle cx="170.4" cy="467.3" r="4.6"/><circle cx="171.3" cy="463.5" r="4.6"/><circle cx="171.8" cy="460.6" r="4.6"/><circle cx="172.1" cy="469.4" r="4.6"/><circle cx="172.4" cy="470.0" r="4.6"/><circle cx="173.2" cy="466.4" r="4.6"/><circle cx="173.2" cy="461.2" r="4.6"/><circle cx="173.9" cy="480.6" r="4.6"/><circle cx="174.2" cy="481.3" r="4.6"/><circle cx="175.2" cy="462.3" r="4.6"/><circle cx="175.6" cy="478.4" r="4.6"/><circle cx="175.8" cy="468.9" r="4.6"/><circle cx="176.7" cy="467.7" r="4.6"/><circle cx="176.8" cy="483.4" r="4.6"/><circle cx="177.4" cy="482.4" r="4.6"/><circle cx="177.7" cy="464.5" r="4.6"/><circle cx="178.5" cy="472.9" r="4.6"/><circle cx="178.9" cy="462.6" r="4.6"/><circle cx="179.4" cy="454.7" r="4.6"/><circle cx="180.0" cy="473.5" r="4.6"/><circle cx="180.7" cy="470.0" r="4.6"/><circle cx="181.0" cy="472.0" r="4.6"/><circle cx="181.7" cy="483.0" r="4.6"/><circle cx="182.2" cy="463.6" r="4.6"/><circle cx="182.6" cy="469.2" r="4.6"/><circle cx="183.1" cy="466.3" r="4.6"/><circle cx="183.4" cy="450.5" r="4.6"/><circle cx="183.9" cy="463.1" r="4.6"/><circle cx="184.6" cy="452.2" r="4.6"/><circle cx="185.2" cy="464.2" r="4.6"/><circle cx="185.6" cy="455.6" r="4.6"/><circle cx="185.7" cy="454.9" r="4.6"/><circle cx="186.4" cy="473.9" r="4.6"/><circle cx="186.8" cy="459.7" r="4.6"/><circle cx="187.4" cy="460.3" r="4.6"/><circle cx="188.0" cy="464.6" r="4.6"/><circle cx="188.3" cy="445.7" r="4.6"/><circle cx="189.1" cy="454.5" r="4.6"/><circle cx="189.2" cy="455.6" r="4.6"/><circle cx="190.0" cy="464.0" r="4.6"/><circle cx="190.5" cy="462.4" r="4.6"/><circle cx="191.0" cy="455.5" r="4.6"/><circle cx="191.4" cy="473.5" r="4.6"/><circle cx="192.2" cy="455.5" r="4.6"/><circle cx="192.2" cy="453.5" r="4.6"/><circle cx="192.8" cy="462.1" r="4.6"/><circle cx="193.8" cy="453.2" r="4.6"/><circle cx="194.0" cy="467.9" r="4.6"/><circle cx="194.2" cy="460.7" r="4.6"/><circle cx="195.3" cy="452.4" r="4.6"/><circle cx="195.5" cy="474.8" r="4.6"/><circle cx="195.8" cy="454.3" r="4.6"/><circle cx="196.7" cy="456.6" r="4.6"/><circle cx="197.1" cy="459.0" r="4.6"/><circle cx="197.3" cy="459.0" r="4.6"/><circle cx="198.1" cy="459.0" r="4.6"/><circle cx="198.5" cy="445.9" r="4.6"/><circle cx="198.7" cy="456.1" r="4.6"/><circle cx="199.4" cy="440.1" r="4.6"/><circle cx="199.8" cy="453.0" r="4.6"/><circle cx="200.4" cy="453.7" r="4.6"/><circle cx="200.8" cy="458.4" r="4.6"/><circle cx="201.3" cy="448.1" r="4.6"/><circle cx="201.8" cy="455.9" r="4.6"/><circle cx="202.3" cy="450.2" r="4.6"/><circle cx="203.2" cy="453.5" r="4.6"/><circle cx="203.3" cy="446.0" r="4.6"/><circle cx="204.0" cy="459.8" r="4.6"/><circle cx="204.7" cy="458.7" r="4.6"/><circle cx="205.0" cy="439.5" r="4.6"/><circle cx="205.5" cy="448.9" r="4.6"/><circle cx="205.8" cy="447.8" r="4.6"/><circle cx="206.4" cy="435.0" r="4.6"/><circle cx="207.2" cy="439.5" r="4.6"/><circle cx="207.3" cy="446.9" r="4.6"/><circle cx="207.9" cy="439.2" r="4.6"/><circle cx="208.4" cy="448.8" r="4.6"/><circle cx="209.1" cy="452.4" r="4.6"/><circle cx="209.7" cy="441.6" r="4.6"/><circle cx="210.0" cy="450.6" r="4.6"/><circle cx="210.3" cy="452.6" r="4.6"/><circle cx="210.7" cy="442.8" r="4.6"/><circle cx="211.6" cy="450.3" r="4.6"/><circle cx="211.9" cy="450.1" r="4.6"/><circle cx="212.4" cy="450.3" r="4.6"/><circle cx="212.8" cy="443.9" r="4.6"/><circle cx="213.3" cy="444.6" r="4.6"/><circle cx="214.2" cy="438.6" r="4.6"/><circle cx="214.7" cy="445.8" r="4.6"/><circle cx="214.8" cy="445.2" r="4.6"/><circle cx="215.5" cy="443.0" r="4.6"/><circle cx="216.3" cy="440.8" r="4.6"/><circle cx="216.4" cy="437.7" r="4.6"/><circle cx="216.7" cy="430.1" r="4.6"/><circle cx="217.2" cy="437.7" r="4.6"/><circle cx="218.1" cy="431.7" r="4.6"/><circle cx="218.7" cy="438.8" r="4.6"/><circle cx="218.9" cy="435.5" r="4.6"/><circle cx="219.8" cy="449.6" r="4.6"/><circle cx="219.9" cy="435.9" r="4.6"/><circle cx="220.8" cy="434.0" r="4.6"/><circle cx="220.8" cy="446.6" r="4.6"/><circle cx="221.6" cy="430.3" r="4.6"/><circle cx="222.0" cy="443.1" r="4.6"/><circle cx="222.8" cy="442.9" r="4.6"/><circle cx="222.8" cy="436.8" r="4.6"/><circle cx="223.4" cy="430.7" r="4.6"/><circle cx="223.8" cy="433.9" r="4.6"/><circle cx="224.8" cy="436.7" r="4.6"/><circle cx="224.9" cy="440.0" r="4.6"/><circle cx="225.3" cy="438.4" r="4.6"/><circle cx="226.2" cy="437.3" r="4.6"/><circle cx="226.6" cy="433.1" r="4.6"/><circle cx="227.1" cy="439.7" r="4.6"/><circle cx="227.4" cy="429.8" r="4.6"/><circle cx="227.9" cy="431.2" r="4.6"/><circle cx="228.7" cy="434.6" r="4.6"/><circle cx="228.9" cy="437.3" r="4.6"/><circle cx="229.5" cy="435.6" r="4.6"/><circle cx="229.9" cy="435.6" r="4.6"/><circle cx="230.4" cy="430.7" r="4.6"/><circle cx="231.3" cy="437.0" r="4.6"/><circle cx="231.7" cy="422.5" r="4.6"/><circle cx="232.1" cy="428.9" r="4.6"/><circle cx="232.7" cy="425.4" r="4.6"/><circle cx="233.1" cy="426.3" r="4.6"/><circle cx="233.4" cy="433.2" r="4.6"/><circle cx="233.8" cy="434.7" r="4.6"/><circle cx="234.5" cy="426.1" r="4.6"/><circle cx="235.2" cy="430.3" r="4.6"/><circle cx="235.8" cy="438.8" r="4.6"/><circle cx="235.9" cy="431.4" r="4.6"/><circle cx="236.7" cy="436.3" r="4.6"/><circle cx="236.9" cy="434.4" r="4.6"/><circle cx="237.7" cy="434.5" r="4.6"/><circle cx="238.2" cy="427.4" r="4.6"/><circle cx="238.5" cy="430.4" r="4.6"/><circle cx="238.9" cy="439.0" r="4.6"/><circle cx="239.5" cy="424.7" r="4.6"/><circle cx="240.0" cy="422.8" r="4.6"/><circle cx="240.8" cy="433.4" r="4.6"/><circle cx="240.7" cy="425.0" r="4.6"/><circle cx="241.5" cy="427.5" r="4.6"/><circle cx="242.2" cy="429.7" r="4.6"/><circle cx="242.6" cy="424.9" r="4.6"/><circle cx="243.0" cy="425.4" r="4.6"/><circle cx="243.7" cy="420.7" r="4.6"/><circle cx="244.2" cy="425.2" r="4.6"/><circle cx="244.7" cy="419.6" r="4.6"/><circle cx="244.9" cy="427.4" r="4.6"/><circle cx="245.4" cy="425.8" r="4.6"/><circle cx="245.8" cy="430.0" r="4.6"/><circle cx="246.3" cy="423.7" r="4.6"/><circle cx="247.0" cy="429.4" r="4.6"/><circle cx="247.4" cy="429.7" r="4.6"/><circle cx="248.2" cy="429.6" r="4.6"/><circle cx="248.6" cy="427.2" r="4.6"/><circle cx="249.0" cy="425.5" r="4.6"/><circle cx="249.4" cy="424.6" r="4.6"/><circle cx="250.1" cy="420.8" r="4.6"/><circle cx="250.9" cy="422.3" r="4.6"/><circle cx="251.9" cy="421.9" r="4.6"/><circle cx="253.0" cy="431.0" r="4.6"/><circle cx="253.8" cy="415.4" r="4.6"/><circle cx="255.2" cy="419.1" r="4.6"/><circle cx="256.1" cy="421.1" r="4.6"/><circle cx="257.2" cy="415.0" r="4.6"/><circle cx="258.5" cy="422.0" r="4.6"/><circle cx="259.5" cy="415.3" r="4.6"/><circle cx="260.1" cy="419.6" r="4.6"/><circle cx="261.5" cy="417.4" r="4.6"/><circle cx="262.4" cy="406.3" r="4.6"/><circle cx="264.0" cy="418.7" r="4.6"/><circle cx="264.6" cy="409.7" r="4.6"/><circle cx="266.2" cy="416.3" r="4.6"/><circle cx="267.3" cy="421.1" r="4.6"/><circle cx="267.9" cy="418.0" r="4.6"/><circle cx="269.3" cy="413.2" r="4.6"/><circle cx="270.6" cy="412.7" r="4.6"/><circle cx="271.6" cy="412.7" r="4.6"/><circle cx="272.4" cy="410.4" r="4.6"/><circle cx="273.9" cy="406.6" r="4.6"/><circle cx="275.0" cy="409.8" r="4.6"/><circle cx="275.5" cy="409.2" r="4.6"/><circle cx="276.7" cy="418.3" r="4.6"/><circle cx="278.0" cy="410.4" r="4.6"/><circle cx="279.3" cy="417.6" r="4.6"/><circle cx="279.9" cy="406.8" r="4.6"/><circle cx="281.5" cy="407.6" r="4.6"/><circle cx="282.7" cy="405.4" r="4.6"/><circle cx="283.4" cy="401.0" r="4.6"/><circle cx="284.3" cy="399.9" r="4.6"/><circle cx="285.5" cy="402.3" r="4.6"/><circle cx="286.7" cy="407.3" r="4.6"/><circle cx="287.9" cy="397.3" r="4.6"/><circle cx="289.1" cy="395.2" r="4.6"/><circle cx="290.4" cy="400.4" r="4.6"/><circle cx="291.5" cy="397.0" r="4.6"/><circle cx="292.5" cy="396.1" r="4.6"/><circle cx="293.4" cy="406.0" r="4.6"/><circle cx="294.6" cy="397.8" r="4.6"/><circle cx="295.8" cy="399.9" r="4.6"/><circle cx="297.0" cy="396.2" r="4.6"/><circle cx="297.6" cy="399.8" r="4.6"/><circle cx="298.7" cy="395.1" r="4.6"/><circle cx="299.6" cy="394.2" r="4.6"/><circle cx="301.2" cy="397.1" r="4.6"/><circle cx="302.4" cy="392.9" r="4.6"/><circle cx="303.1" cy="398.9" r="4.6"/><circle cx="304.1" cy="389.0" r="4.6"/><circle cx="305.3" cy="398.5" r="4.6"/><circle cx="307.0" cy="385.7" r="4.6"/><circle cx="307.8" cy="388.4" r="4.6"/><circle cx="309.0" cy="390.3" r="4.6"/><circle cx="309.8" cy="384.1" r="4.6"/><circle cx="310.8" cy="386.1" r="4.6"/><circle cx="312.2" cy="391.4" r="4.6"/><circle cx="312.8" cy="386.6" r="4.6"/><circle cx="314.2" cy="383.7" r="4.6"/><circle cx="315.5" cy="389.9" r="4.6"/><circle cx="316.8" cy="386.2" r="4.6"/><circle cx="317.7" cy="387.9" r="4.6"/><circle cx="318.8" cy="391.5" r="4.6"/><circle cx="319.5" cy="384.5" r="4.6"/><circle cx="320.9" cy="385.3" r="4.6"/><circle cx="322.2" cy="395.9" r="4.6"/><circle cx="322.7" cy="373.6" r="4.6"/><circle cx="324.1" cy="383.2" r="4.6"/><circle cx="325.1" cy="378.3" r="4.6"/><circle cx="326.3" cy="383.4" r="4.6"/><circle cx="327.1" cy="377.4" r="4.6"/><circle cx="329.0" cy="378.3" r="4.6"/><circle cx="329.6" cy="374.2" r="4.6"/><circle cx="330.5" cy="383.1" r="4.6"/><circle cx="332.2" cy="379.2" r="4.6"/><circle cx="333.2" cy="377.3" r="4.6"/><circle cx="333.7" cy="373.7" r="4.6"/><circle cx="335.4" cy="383.3" r="4.6"/><circle cx="336.2" cy="369.8" r="4.6"/><circle cx="337.2" cy="382.0" r="4.6"/><circle cx="338.2" cy="378.5" r="4.6"/><circle cx="339.3" cy="373.9" r="4.6"/><circle cx="340.9" cy="376.0" r="4.6"/><circle cx="341.9" cy="368.5" r="4.6"/><circle cx="343.0" cy="381.1" r="4.6"/><circle cx="344.2" cy="368.2" r="4.6"/><circle cx="344.9" cy="371.0" r="4.6"/><circle cx="345.9" cy="377.3" r="4.6"/><circle cx="347.4" cy="370.6" r="4.6"/><circle cx="348.3" cy="373.0" r="4.6"/><circle cx="349.3" cy="372.3" r="4.6"/><circle cx="350.7" cy="367.7" r="4.6"/><circle cx="351.3" cy="368.3" r="4.6"/><circle cx="353.2" cy="377.6" r="4.6"/><circle cx="354.1" cy="373.2" r="4.6"/><circle cx="355.1" cy="371.2" r="4.6"/><circle cx="356.2" cy="368.3" r="4.6"/><circle cx="356.9" cy="363.7" r="4.6"/><circle cx="357.9" cy="361.2" r="4.6"/><circle cx="359.6" cy="369.1" r="4.6"/><circle cx="360.7" cy="363.3" r="4.6"/><circle cx="361.3" cy="364.5" r="4.6"/><circle cx="362.9" cy="360.0" r="4.6"/><circle cx="363.8" cy="357.2" r="4.6"/><circle cx="365.0" cy="364.8" r="4.6"/><circle cx="365.7" cy="359.8" r="4.6"/><circle cx="367.4" cy="372.4" r="4.6"/><circle cx="368.5" cy="370.5" r="4.6"/><circle cx="369.4" cy="361.3" r="4.6"/><circle cx="370.6" cy="367.3" r="4.6"/><circle cx="371.5" cy="357.9" r="4.6"/><circle cx="372.7" cy="366.5" r="4.6"/><circle cx="373.3" cy="370.6" r="4.6"/><circle cx="374.5" cy="363.1" r="4.6"/><circle cx="376.1" cy="369.3" r="4.6"/><circle cx="377.0" cy="348.9" r="4.6"/><circle cx="378.1" cy="357.8" r="4.6"/><circle cx="379.1" cy="356.2" r="4.6"/><circle cx="381.2" cy="358.6" r="4.6"/><circle cx="382.5" cy="355.4" r="4.6"/><circle cx="384.6" cy="356.2" r="4.6"/><circle cx="386.2" cy="353.6" r="4.6"/><circle cx="388.1" cy="348.8" r="4.6"/><circle cx="389.8" cy="346.4" r="4.6"/><circle cx="391.0" cy="354.4" r="4.6"/><circle cx="392.8" cy="347.6" r="4.6"/><circle cx="395.1" cy="351.2" r="4.6"/><circle cx="396.7" cy="350.0" r="4.6"/><circle cx="398.3" cy="346.4" r="4.6"/><circle cx="399.3" cy="342.4" r="4.6"/><circle cx="401.5" cy="347.9" r="4.6"/><circle cx="402.7" cy="351.1" r="4.6"/><circle cx="404.6" cy="336.1" r="4.6"/><circle cx="406.8" cy="340.2" r="4.6"/><circle cx="408.0" cy="354.0" r="4.6"/><circle cx="409.4" cy="344.8" r="4.6"/><circle cx="411.9" cy="345.0" r="4.6"/><circle cx="413.1" cy="348.0" r="4.6"/><circle cx="414.8" cy="348.5" r="4.6"/><circle cx="417.2" cy="343.2" r="4.6"/><circle cx="418.8" cy="344.2" r="4.6"/><circle cx="420.3" cy="338.7" r="4.6"/><circle cx="421.8" cy="340.6" r="4.6"/><circle cx="423.3" cy="335.7" r="4.6"/><circle cx="425.7" cy="341.8" r="4.6"/><circle cx="427.2" cy="340.8" r="4.6"/><circle cx="428.2" cy="340.6" r="4.6"/><circle cx="430.4" cy="340.2" r="4.6"/><circle cx="431.7" cy="331.0" r="4.6"/><circle cx="433.5" cy="336.2" r="4.6"/><circle cx="434.8" cy="332.9" r="4.6"/><circle cx="437.2" cy="333.7" r="4.6"/><circle cx="438.6" cy="336.1" r="4.6"/><circle cx="441.1" cy="338.1" r="4.6"/><circle cx="441.8" cy="331.6" r="4.6"/><circle cx="443.8" cy="328.5" r="4.6"/><circle cx="445.6" cy="328.5" r="4.6"/><circle cx="447.8" cy="328.6" r="4.6"/><circle cx="448.5" cy="327.9" r="4.6"/><circle cx="451.3" cy="327.8" r="4.6"/><circle cx="452.1" cy="329.1" r="4.6"/><circle cx="454.3" cy="319.7" r="4.6"/><circle cx="455.6" cy="318.9" r="4.6"/><circle cx="457.3" cy="321.5" r="4.6"/><circle cx="458.9" cy="321.4" r="4.6"/><circle cx="460.3" cy="328.1" r="4.6"/><circle cx="462.9" cy="320.8" r="4.6"/><circle cx="464.4" cy="324.6" r="4.6"/><circle cx="466.2" cy="316.6" r="4.6"/><circle cx="468.0" cy="314.9" r="4.6"/><circle cx="470.0" cy="328.4" r="4.6"/><circle cx="471.2" cy="322.1" r="4.6"/><circle cx="472.5" cy="314.2" r="4.6"/><circle cx="474.7" cy="316.4" r="4.6"/><circle cx="475.9" cy="323.7" r="4.6"/><circle cx="477.4" cy="317.6" r="4.6"/><circle cx="479.1" cy="313.5" r="4.6"/><circle cx="481.6" cy="317.9" r="4.6"/><circle cx="482.9" cy="315.8" r="4.6"/><circle cx="485.1" cy="306.2" r="4.6"/><circle cx="486.2" cy="321.4" r="4.6"/><circle cx="488.3" cy="316.1" r="4.6"/><circle cx="490.4" cy="311.3" r="4.6"/><circle cx="491.7" cy="309.2" r="4.6"/><circle cx="492.7" cy="308.0" r="4.6"/><circle cx="495.2" cy="303.2" r="4.6"/><circle cx="496.3" cy="310.0" r="4.6"/><circle cx="498.3" cy="306.4" r="4.6"/><circle cx="500.3" cy="303.5" r="4.6"/><circle cx="111.0" cy="519.4" r="4.6"/><circle cx="129.2" cy="528.9" r="4.6"/><circle cx="126.6" cy="527.2" r="4.6"/><circle cx="160.3" cy="504.7" r="4.6"/><circle cx="167.3" cy="510.8" r="4.6"/><circle cx="119.7" cy="512.5" r="4.6"/><circle cx="224.8" cy="466.2" r="4.6"/><circle cx="233.9" cy="460.3" r="4.6"/><circle cx="270.4" cy="437.0" r="4.6"/><circle cx="248.7" cy="447.3" r="4.6"/><circle cx="224.0" cy="464.0" r="4.6"/><circle cx="249.2" cy="446.0" r="4.6"/><circle cx="270.7" cy="437.1" r="4.6"/><circle cx="313.9" cy="413.7" r="4.6"/><circle cx="318.4" cy="403.8" r="4.6"/><circle cx="348.9" cy="388.5" r="4.6"/><circle cx="364.2" cy="352.6" r="4.6"/><circle cx="332.8" cy="366.0" r="4.6"/><circle cx="349.8" cy="388.4" r="4.6"/><circle cx="314.4" cy="413.9" r="4.6"/><circle cx="432.8" cy="351.9" r="4.6"/><circle cx="453.4" cy="340.8" r="4.6"/><circle cx="530.2" cy="299.8" r="4.6"/><circle cx="492.2" cy="298.1" r="4.6"/><circle cx="110.5" cy="470.0" r="4.6"/><circle cx="122.0" cy="461.5" r="4.6"/><circle cx="143.0" cy="453.0" r="4.6"/><circle cx="167.0" cy="442.5" r="4.6"/><circle cx="203.6" cy="428.6" r="4.6"/><circle cx="504.8" cy="305.2" r="4.6"/><circle cx="512.7" cy="294.0" r="4.6"/><circle cx="518.0" cy="296.0" r="4.6"/><circle cx="525.5" cy="286.0" r="4.6"/><circle cx="530.2" cy="300.4" r="4.6"/><circle cx="533.9" cy="290.4" r="4.6"/><circle cx="537.5" cy="282.3" r="4.6"/><circle cx="548.4" cy="276.0" r="4.6"/><circle cx="554.7" cy="289.3" r="4.6"/><circle cx="557.1" cy="281.6" r="4.6"/><circle cx="559.0" cy="287.5" r="4.6"/><circle cx="572.6" cy="270.0" r="4.6"/><circle cx="573.0" cy="280.1" r="4.6"/><circle cx="578.4" cy="261.3" r="4.6"/><circle cx="579.4" cy="265.2" r="4.6"/><circle cx="591.0" cy="263.3" r="4.6"/><circle cx="595.8" cy="266.2" r="4.6"/><circle cx="609.4" cy="257.4" r="4.6"/><circle cx="611.3" cy="252.6" r="4.6"/><circle cx="622.0" cy="243.3" r="4.6"/><circle cx="632.6" cy="243.9" r="4.6"/><circle cx="637.5" cy="241.6" r="4.6"/><circle cx="643.3" cy="243.5" r="4.6"/><circle cx="653.9" cy="234.2" r="4.6"/><circle cx="667.1" cy="228.0" r="4.6"/><circle cx="674.2" cy="234.2" r="4.6"/><circle cx="684.9" cy="223.6" r="4.6"/><circle cx="696.1" cy="222.2" r="4.6"/><circle cx="708.5" cy="221.6" r="4.6"/><circle cx="720.7" cy="208.1" r="4.6"/><circle cx="733.3" cy="212.5" r="4.6"/><circle cx="749.4" cy="207.5" r="4.6"/><circle cx="765.7" cy="205.0" r="4.6"/><circle cx="781.5" cy="190.6" r="4.6"/><circle cx="795.4" cy="192.4" r="4.6"/><circle cx="813.8" cy="185.7" r="4.6"/><circle cx="826.8" cy="186.8" r="4.6"/><circle cx="847.5" cy="186.8" r="4.6"/><circle cx="861.0" cy="178.1" r="4.6"/><circle cx="878.3" cy="188.5" r="4.6"/><circle cx="895.6" cy="183.2" r="4.6"/><circle cx="911.5" cy="171.6" r="4.6"/><circle cx="926.0" cy="183.2" r="4.6"/><circle cx="938.2" cy="171.9" r="4.6"/><circle cx="949.5" cy="163.9" r="4.6"/><circle cx="960.3" cy="166.1" r="4.6"/></g>
</g>
<path d="M554.6 195.5 L554.6 240.6 M561.8 202.1 Q557.1 197.5 554.6 195.1 Q552.1 197.5 547.4 202.1 M547.4 234.0 Q552.1 238.6 554.6 241.0 Q557.1 238.6 561.8 234.0" fill="none" stroke="#55a022" stroke-width="2"/><path d="M698.4 294.2 C 697 262, 672 238, 600 234 L 566 233.6" fill="none" stroke="#55a022" stroke-width="2" stroke-dasharray="8.7 7.7"/><path d="M572.4 226.4 Q567.9 231.1 565.4 233.6 Q567.9 236.1 572.4 240.8" fill="none" stroke="#55a022" stroke-width="2"/><path d="M921.1 144 L921.1 174.4 M928.3 150.6 Q923.6 146.0 921.1 143.6 Q918.6 146.0 913.9 150.6 M913.9 167.8 Q918.6 172.4 921.1 174.8 Q923.6 172.4 928.3 167.8" fill="none" stroke="#2ca02c" stroke-width="2"/><path d="M867.5 216 C 872 190, 890 163, 913 156.8" fill="none" stroke="#2ca02c" stroke-width="2" stroke-dasharray="8.7 7.7"/><path d="M908.7 164.2 Q912.7 159.1 914.9 156.3 Q912.2 154.0 907.2 149.8" fill="none" stroke="#2ca02c" stroke-width="2"/>
<text transform="translate(648.50 311.40) scale(0.9750 1)" font-family="'Liberation Serif', 'Times New Roman', serif" font-size="31.18" fill="#55a022"><tspan font-size="41.85" dy="5.3">+</tspan><tspan dy="-5.3">1.37%</tspan></text>
<text transform="translate(816.40 240.70) scale(0.9750 1)" font-family="'Liberation Serif', 'Times New Roman', serif" font-size="31.18" fill="#2ca02c"><tspan font-size="41.85" dy="5.3">+</tspan><tspan dy="-5.3">0.48%</tspan></text>
<rect x="506.8" y="434.4" width="446.4" height="102" fill="#ffffff" stroke="#000" stroke-width="1.8"/>
<g fill="#1f77b4"><rect x="520.6" y="462.6" width="2.8" height="2.8"/><rect x="531.3" y="462.6" width="2.8" height="2.8"/><rect x="542.0" y="462.6" width="2.8" height="2.8"/><rect x="563.8" y="462.6" width="2.8" height="2.8"/><rect x="574.6" y="462.6" width="2.8" height="2.8"/><rect x="585.2" y="462.6" width="2.8" height="2.8"/><circle cx="556.2" cy="464.0" r="4.7"/></g>
<g fill="#4b0082"><rect x="520.6" y="504.8" width="2.8" height="2.8"/><rect x="531.3" y="504.8" width="2.8" height="2.8"/><rect x="542.0" y="504.8" width="2.8" height="2.8"/><rect x="563.8" y="504.8" width="2.8" height="2.8"/><rect x="574.6" y="504.8" width="2.8" height="2.8"/><rect x="585.2" y="504.8" width="2.8" height="2.8"/><circle cx="556.2" cy="506.2" r="4.7"/></g>
<text transform="translate(601.30 471.10) scale(0.9550 1)" font-family="'Liberation Serif', 'Times New Roman', serif" font-size="30.37" fill="#000">Gradient Boosting Classifier</text>
<text transform="translate(601.30 513.10) scale(0.9550 1)" font-family="'Liberation Serif', 'Times New Roman', serif" font-size="30.37" fill="#000">Extra Trees Classifer</text>
<text transform="translate(96.00 556.50) scale(0.9640 1)" text-anchor="end" font-family="'Liberation Serif', 'Times New Roman', serif" font-size="44.09" fill="#000">88</text>
<text transform="translate(96.00 402.40) scale(0.9640 1)" text-anchor="end" font-family="'Liberation Serif', 'Times New Roman', serif" font-size="44.09" fill="#000">90</text>
<text transform="translate(96.00 248.30) scale(0.9640 1)" text-anchor="end" font-family="'Liberation Serif', 'Times New Roman', serif" font-size="44.09" fill="#000">92</text>
<text transform="translate(96.00 94.20) scale(0.9640 1)" text-anchor="end" font-family="'Liberation Serif', 'Times New Roman', serif" font-size="44.09" fill="#000">94</text>
<text transform="translate(110.00 593.60) scale(0.9600 1)" text-anchor="middle" font-family="'Liberation Serif', 'Times New Roman', serif" font-size="42.71" fill="#000">10<tspan font-size="30.21" dy="-16">1</tspan></text>
<text transform="translate(487.80 593.60) scale(0.9600 1)" text-anchor="middle" font-family="'Liberation Serif', 'Times New Roman', serif" font-size="42.71" fill="#000">10<tspan font-size="30.21" dy="-16">2</tspan></text>
<text transform="translate(865.60 593.60) scale(0.9600 1)" text-anchor="middle" font-family="'Liberation Serif', 'Times New Roman', serif" font-size="42.71" fill="#000">10<tspan font-size="30.21" dy="-16">3</tspan></text>
<text transform="translate(536.00 651.80) scale(0.9950 1)" text-anchor="middle" font-family="'Liberation Serif', 'Times New Roman', serif" font-size="42.05" fill="#000">Size of model [kB]</text>
<text transform="translate(28.70 272.00) rotate(-90) scale(0.9835 1)" text-anchor="middle" font-family="'Liberation Serif', 'Times New Roman', serif" font-size="42.37" fill="#000">TUAR Test Accuracy [%]</text>
<text transform="translate(537.70 716.60) scale(1.0300 1)" text-anchor="middle" font-weight="bold" font-family="'Liberation Serif', 'Times New Roman', serif" font-size="39.81" fill="#000">(a)</text>
<g stroke="#c9c9c9" stroke-width="1.7"><line x1="1147.0" y1="446.4" x2="1999.1" y2="446.4"/><line x1="1147.0" y1="319.3" x2="1999.1" y2="319.3"/><line x1="1147.0" y1="192.2" x2="1999.1" y2="192.2"/><line x1="1147.0" y1="65.0" x2="1999.1" y2="65.0"/><line x1="1233.8" y1="2.0" x2="1233.8" y2="541.8"/><line x1="1400.2" y1="2.0" x2="1400.2" y2="541.8"/><line x1="1566.5" y1="2.0" x2="1566.5" y2="541.8"/><line x1="1733.0" y1="2.0" x2="1733.0" y2="541.8"/><line x1="1899.3" y1="2.0" x2="1899.3" y2="541.8"/></g>
<g stroke="#8a8a8a" stroke-width="1.9"><line x1="1147.0" y1="446.4" x2="1164.5" y2="446.4"/><line x1="1147.0" y1="319.3" x2="1164.5" y2="319.3"/><line x1="1147.0" y1="192.2" x2="1164.5" y2="192.2"/><line x1="1147.0" y1="65.0" x2="1164.5" y2="65.0"/><line x1="1233.8" y1="541.8" x2="1233.8" y2="524.3"/><line x1="1400.2" y1="541.8" x2="1400.2" y2="524.3"/><line x1="1566.5" y1="541.8" x2="1566.5" y2="524.3"/><line x1="1733.0" y1="541.8" x2="1733.0" y2="524.3"/><line x1="1899.3" y1="541.8" x2="1899.3" y2="524.3"/></g><g stroke="#a3a3a3" stroke-width="1.8"><line x1="1167.5" y1="541.8" x2="1167.5" y2="530.6"/><line x1="1183.7" y1="541.8" x2="1183.7" y2="530.6"/><line x1="1196.8" y1="541.8" x2="1196.8" y2="530.6"/><line x1="1208.0" y1="541.8" x2="1208.0" y2="530.6"/><line x1="1217.6" y1="541.8" x2="1217.6" y2="530.6"/><line x1="1226.1" y1="541.8" x2="1226.1" y2="530.6"/><line x1="1283.8" y1="541.8" x2="1283.8" y2="530.6"/><line x1="1313.1" y1="541.8" x2="1313.1" y2="530.6"/><line x1="1333.9" y1="541.8" x2="1333.9" y2="530.6"/><line x1="1350.1" y1="541.8" x2="1350.1" y2="530.6"/><line x1="1363.2" y1="541.8" x2="1363.2" y2="530.6"/><line x1="1374.4" y1="541.8" x2="1374.4" y2="530.6"/><line x1="1384.0" y1="541.8" x2="1384.0" y2="530.6"/><line x1="1392.5" y1="541.8" x2="1392.5" y2="530.6"/><line x1="1450.2" y1="541.8" x2="1450.2" y2="530.6"/><line x1="1479.5" y1="541.8" x2="1479.5" y2="530.6"/><line x1="1500.3" y1="541.8" x2="1500.3" y2="530.6"/><line x1="1516.5" y1="541.8" x2="1516.5" y2="530.6"/><line x1="1529.6" y1="541.8" x2="1529.6" y2="530.6"/><line x1="1540.8" y1="541.8" x2="1540.8" y2="530.6"/><line x1="1550.4" y1="541.8" x2="1550.4" y2="530.6"/><line x1="1558.9" y1="541.8" x2="1558.9" y2="530.6"/><line x1="1616.6" y1="541.8" x2="1616.6" y2="530.6"/><line x1="1645.9" y1="541.8" x2="1645.9" y2="530.6"/><line x1="1666.7" y1="541.8" x2="1666.7" y2="530.6"/><line x1="1682.9" y1="541.8" x2="1682.9" y2="530.6"/><line x1="1696.0" y1="541.8" x2="1696.0" y2="530.6"/><line x1="1707.2" y1="541.8" x2="1707.2" y2="530.6"/><line x1="1716.8" y1="541.8" x2="1716.8" y2="530.6"/><line x1="1725.3" y1="541.8" x2="1725.3" y2="530.6"/><line x1="1783.0" y1="541.8" x2="1783.0" y2="530.6"/><line x1="1812.3" y1="541.8" x2="1812.3" y2="530.6"/><line x1="1833.1" y1="541.8" x2="1833.1" y2="530.6"/><line x1="1849.3" y1="541.8" x2="1849.3" y2="530.6"/><line x1="1862.4" y1="541.8" x2="1862.4" y2="530.6"/><line x1="1873.6" y1="541.8" x2="1873.6" y2="530.6"/><line x1="1883.2" y1="541.8" x2="1883.2" y2="530.6"/><line x1="1891.7" y1="541.8" x2="1891.7" y2="530.6"/><line x1="1949.4" y1="541.8" x2="1949.4" y2="530.6"/><line x1="1978.7" y1="541.8" x2="1978.7" y2="530.6"/></g>
<rect x="1147.0" y="2.0" width="852.1" height="539.8" fill="none" stroke="#000" stroke-width="2.2"/>
<rect x="1145.8" y="0.8" width="267.30" height="542.2" fill="rgb(160,110,60)" fill-opacity="0.2"/><rect x="1413.10" y="0.8" width="183.20" height="542.2" fill="rgb(255,140,0)" fill-opacity="0.2"/>
<text transform="translate(1293.75 53.10) scale(0.9750 1)" text-anchor="middle" font-weight="bold" font-family="'Liberation Serif', 'Times New Roman', serif" font-size="29.95" fill="#a0692f">L1 Memory</text>
<text transform="translate(1293.75 84.10) scale(0.9750 1)" text-anchor="middle" font-weight="bold" font-family="'Liberation Serif', 'Times New Roman', serif" font-size="29.95" fill="#a0692f">Capacity</text>
<text transform="translate(1508.60 53.00) scale(0.9750 1)" text-anchor="middle" font-weight="bold" font-family="'Liberation Serif', 'Times New Roman', serif" font-size="29.95" fill="#ff8c00">L2 Memory</text>
<text transform="translate(1508.60 84.00) scale(0.9750 1)" text-anchor="middle" font-weight="bold" font-family="'Liberation Serif', 'Times New Roman', serif" font-size="29.95" fill="#ff8c00">Capacity</text>
<line x1="1413.10" y1="2.0" x2="1413.10" y2="541.8" stroke="#af732d" stroke-width="5.4" stroke-dasharray="12.5 12.4"/>
<line x1="1596.30" y1="2.0" x2="1596.30" y2="541.8" stroke="#ff8c00" stroke-width="5.4" stroke-dasharray="12.5 12.4"/>
<clipPath id="clipB"><rect x="1141.0" y="2.0" width="858.1" height="539.8"/></clipPath>
<g clip-path="url(#clipB)">
<path d="M1143.8 427.6 L1145.1 425.7 L1146.1 430.0 L1147.2 429.6 L1148.6 426.4 L1149.7 426.9 L1150.4 426.5 L1151.7 425.8 L1152.8 426.4 L1154.0 424.1 L1154.7 423.8 L1155.8 423.0 L1157.3 424.4 L1158.1 423.5 L1159.3 423.0 L1160.6 424.1 L1161.6 421.6 L1162.5 421.8 L1164.0 422.1 L1164.8 423.9 L1165.9 423.5 L1167.3 421.3 L1168.0 420.3 L1169.2 420.9 L1170.6 418.6 L1171.8 420.0 L1172.8 420.1 L1173.5 419.0 L1175.0 417.5 L1175.7 419.2 L1176.8 418.0 L1178.1 418.1 L1178.9 417.3 L1180.1 417.9 L1181.2 416.3 L1182.4 416.9 L1183.7 417.5 L1184.9 416.4 L1185.7 416.1 L1186.8 417.3 L1188.2 418.0 L1189.3 415.4 L1190.3 415.0 L1191.1 414.2 L1192.6 415.0 L1193.7 415.3 L1194.8 414.4 L1195.9 413.5 L1196.9 414.1 L1198.2 413.3 L1198.8 412.8 L1200.3 411.8 L1201.2 412.9 L1202.4 412.3 L1203.5 413.1 L1204.5 411.1 L1205.3 411.6 L1206.6 411.6 L1207.6 410.4 L1209.2 410.2 L1210.1 410.0 L1211.2 410.3 L1211.9 411.2 L1213.1 409.8 L1214.4 407.7 L1215.7 407.8 L1216.9 408.2 L1217.9 408.6 L1218.5 407.9 L1220.0 407.9 L1221.0 406.4 L1221.9 409.1 L1223.1 406.1 L1224.1 404.6 L1225.6 405.4 L1226.7 406.6 L1227.6 403.7 L1228.9 404.6 L1230.0 404.0 L1230.6 404.7 L1231.9 403.1 L1233.1 403.1 L1234.4 402.1 L1235.2 401.9 L1236.5 400.2 L1237.4 399.7 L1238.3 400.7 L1239.8 400.1 L1240.8 400.0 L1242.1 400.6 L1242.9 398.2 L1244.2 399.0 L1245.2 399.8 L1246.2 397.4 L1247.7 397.3 L1248.7 396.3 L1249.5 398.2 L1250.9 397.7 L1251.6 395.8 L1252.9 397.9 L1254.0 396.1 L1255.0 396.0 L1256.1 396.4 L1257.5 396.4 L1258.5 394.5 L1259.6 395.3 L1260.4 394.7 L1262.0 395.4 L1262.9 393.2 L1263.7 394.8 L1265.2 391.4 L1265.9 393.3 L1267.3 393.6 L1268.6 392.3 L1269.6 392.5 L1270.7 391.8 L1271.3 389.4 L1272.5 390.0 L1273.6 391.5 L1274.8 390.5 L1276.1 390.0 L1277.3 391.3 L1278.3 390.3 L1279.1 388.0 L1280.6 388.7 L1281.5 389.7 L1282.7 389.1 L1283.6 388.5 L1284.7 389.1 L1286.1 388.7 L1287.2 390.5 L1288.4 388.7 L1289.1 388.5 L1290.0 388.2 L1291.4 387.9 L1292.7 388.1 L1293.6 387.8 L1294.5 387.8 L1295.8 387.6 L1297.1 386.7 L1298.2 387.4 L1299.1 386.2 L1300.0 387.5 L1301.6 388.3 L1302.1 386.6 L1303.6 386.5 L1304.4 388.3 L1305.9 386.0 L1306.5 385.1 L1308.0 386.2 L1309.1 384.9 L1309.8 386.2 L1311.4 384.2 L1312.5 385.3 L1313.2 385.3 L1314.5 385.9 L1315.7 385.1 L1316.8 383.5 L1317.8 384.6 L1318.8 384.3 L1320.2 385.4 L1321.2 383.5 L1321.9 383.5 L1323.6 383.9 L1324.5 383.2 L1325.4 382.3 L1326.5 382.4 L1327.9 383.0 L1328.9 382.8 L1329.7 381.9 L1331.0 382.4 L1332.3 382.5 L1332.9 380.6 L1334.3 380.9 L1335.3 380.4 L1336.5 380.5 L1337.4 382.1 L1338.5 381.9 L1339.9 380.1 L1340.8 382.2 L1349.0 383.0 L1357.2 382.7 L1368.3 382.3 L1373.8 382.3 L1389.8 381.6 L1401.2 381.9 L1421.0 381.8 L1443.0 381.8 L1473.1 378.6 L1511.9 378.6 L1562.7 378.6 L1571.1 378.6 L1578.1 378.6 L1589.0 378.6 L1598.4 378.6 L1610.0 378.6 L1621.5 378.6 L1633.1 377.1 L1645.7 376.5 L1657.2 376.5 L1672.0 375.0 L1685.2 372.5 L1698.2 371.9 L1711.8 371.3 L1724.9 371.9 L1736.0 371.3 L1747.5 370.2 L1755.9 369.8" fill="none" stroke="#d62728" stroke-width="2.6" stroke-dasharray="2.6 8.3"/>
<g fill="#d62728"><circle cx="1143.8" cy="427.6" r="4.5"/><circle cx="1145.1" cy="425.7" r="4.5"/><circle cx="1146.1" cy="430.0" r="4.5"/><circle cx="1147.2" cy="429.6" r="4.5"/><circle cx="1148.6" cy="426.4" r="4.5"/><circle cx="1149.7" cy="426.9" r="4.5"/><circle cx="1150.4" cy="426.5" r="4.5"/><circle cx="1151.7" cy="425.8" r="4.5"/><circle cx="1152.8" cy="426.4" r="4.5"/><circle cx="1154.0" cy="424.1" r="4.5"/><circle cx="1154.7" cy="423.8" r="4.5"/><circle cx="1155.8" cy="423.0" r="4.5"/><circle cx="1157.3" cy="424.4" r="4.5"/><circle cx="1158.1" cy="423.5" r="4.5"/><circle cx="1159.3" cy="423.0" r="4.5"/><circle cx="1160.6" cy="424.1" r="4.5"/><circle cx="1161.6" cy="421.6" r="4.5"/><circle cx="1162.5" cy="421.8" r="4.5"/><circle cx="1164.0" cy="422.1" r="4.5"/><circle cx="1164.8" cy="423.9" r="4.5"/><circle cx="1165.9" cy="423.5" r="4.5"/><circle cx="1167.3" cy="421.3" r="4.5"/><circle cx="1168.0" cy="420.3" r="4.5"/><circle cx="1169.2" cy="420.9" r="4.5"/><circle cx="1170.6" cy="418.6" r="4.5"/><circle cx="1171.8" cy="420.0" r="4.5"/><circle cx="1172.8" cy="420.1" r="4.5"/><circle cx="1173.5" cy="419.0" r="4.5"/><circle cx="1175.0" cy="417.5" r="4.5"/><circle cx="1175.7" cy="419.2" r="4.5"/><circle cx="1176.8" cy="418.0" r="4.5"/><circle cx="1178.1" cy="418.1" r="4.5"/><circle cx="1178.9" cy="417.3" r="4.5"/><circle cx="1180.1" cy="417.9" r="4.5"/><circle cx="1181.2" cy="416.3" r="4.5"/><circle cx="1182.4" cy="416.9" r="4.5"/><circle cx="1183.7" cy="417.5" r="4.5"/><circle cx="1184.9" cy="416.4" r="4.5"/><circle cx="1185.7" cy="416.1" r="4.5"/><circle cx="1186.8" cy="417.3" r="4.5"/><circle cx="1188.2" cy="418.0" r="4.5"/><circle cx="1189.3" cy="415.4" r="4.5"/><circle cx="1190.3" cy="415.0" r="4.5"/><circle cx="1191.1" cy="414.2" r="4.5"/><circle cx="1192.6" cy="415.0" r="4.5"/><circle cx="1193.7" cy="415.3" r="4.5"/><circle cx="1194.8" cy="414.4" r="4.5"/><circle cx="1195.9" cy="413.5" r="4.5"/><circle cx="1196.9" cy="414.1" r="4.5"/><circle cx="1198.2" cy="413.3" r="4.5"/><circle cx="1198.8" cy="412.8" r="4.5"/><circle cx="1200.3" cy="411.8" r="4.5"/><circle cx="1201.2" cy="412.9" r="4.5"/><circle cx="1202.4" cy="412.3" r="4.5"/><circle cx="1203.5" cy="413.1" r="4.5"/><circle cx="1204.5" cy="411.1" r="4.5"/><circle cx="1205.3" cy="411.6" r="4.5"/><circle cx="1206.6" cy="411.6" r="4.5"/><circle cx="1207.6" cy="410.4" r="4.5"/><circle cx="1209.2" cy="410.2" r="4.5"/><circle cx="1210.1" cy="410.0" r="4.5"/><circle cx="1211.2" cy="410.3" r="4.5"/><circle cx="1211.9" cy="411.2" r="4.5"/><circle cx="1213.1" cy="409.8" r="4.5"/><circle cx="1214.4" cy="407.7" r="4.5"/><circle cx="1215.7" cy="407.8" r="4.5"/><circle cx="1216.9" cy="408.2" r="4.5"/><circle cx="1217.9" cy="408.6" r="4.5"/><circle cx="1218.5" cy="407.9" r="4.5"/><circle cx="1220.0" cy="407.9" r="4.5"/><circle cx="1221.0" cy="406.4" r="4.5"/><circle cx="1221.9" cy="409.1" r="4.5"/><circle cx="1223.1" cy="406.1" r="4.5"/><circle cx="1224.1" cy="404.6" r="4.5"/><circle cx="1225.6" cy="405.4" r="4.5"/><circle cx="1226.7" cy="406.6" r="4.5"/><circle cx="1227.6" cy="403.7" r="4.5"/><circle cx="1228.9" cy="404.6" r="4.5"/><circle cx="1230.0" cy="404.0" r="4.5"/><circle cx="1230.6" cy="404.7" r="4.5"/><circle cx="1231.9" cy="403.1" r="4.5"/><circle cx="1233.1" cy="403.1" r="4.5"/><circle cx="1234.4" cy="402.1" r="4.5"/><circle cx="1235.2" cy="401.9" r="4.5"/><circle cx="1236.5" cy="400.2" r="4.5"/><circle cx="1237.4" cy="399.7" r="4.5"/><circle cx="1238.3" cy="400.7" r="4.5"/><circle cx="1239.8" cy="400.1" r="4.5"/><circle cx="1240.8" cy="400.0" r="4.5"/><circle cx="1242.1" cy="400.6" r="4.5"/><circle cx="1242.9" cy="398.2" r="4.5"/><circle cx="1244.2" cy="399.0" r="4.5"/><circle cx="1245.2" cy="399.8" r="4.5"/><circle cx="1246.2" cy="397.4" r="4.5"/><circle cx="1247.7" cy="397.3" r="4.5"/><circle cx="1248.7" cy="396.3" r="4.5"/><circle cx="1249.5" cy="398.2" r="4.5"/><circle cx="1250.9" cy="397.7" r="4.5"/><circle cx="1251.6" cy="395.8" r="4.5"/><circle cx="1252.9" cy="397.9" r="4.5"/><circle cx="1254.0" cy="396.1" r="4.5"/><circle cx="1255.0" cy="396.0" r="4.5"/><circle cx="1256.1" cy="396.4" r="4.5"/><circle cx="1257.5" cy="396.4" r="4.5"/><circle cx="1258.5" cy="394.5" r="4.5"/><circle cx="1259.6" cy="395.3" r="4.5"/><circle cx="1260.4" cy="394.7" r="4.5"/><circle cx="1262.0" cy="395.4" r="4.5"/><circle cx="1262.9" cy="393.2" r="4.5"/><circle cx="1263.7" cy="394.8" r="4.5"/><circle cx="1265.2" cy="391.4" r="4.5"/><circle cx="1265.9" cy="393.3" r="4.5"/><circle cx="1267.3" cy="393.6" r="4.5"/><circle cx="1268.6" cy="392.3" r="4.5"/><circle cx="1269.6" cy="392.5" r="4.5"/><circle cx="1270.7" cy="391.8" r="4.5"/><circle cx="1271.3" cy="389.4" r="4.5"/><circle cx="1272.5" cy="390.0" r="4.5"/><circle cx="1273.6" cy="391.5" r="4.5"/><circle cx="1274.8" cy="390.5" r="4.5"/><circle cx="1276.1" cy="390.0" r="4.5"/><circle cx="1277.3" cy="391.3" r="4.5"/><circle cx="1278.3" cy="390.3" r="4.5"/><circle cx="1279.1" cy="388.0" r="4.5"/><circle cx="1280.6" cy="388.7" r="4.5"/><circle cx="1281.5" cy="389.7" r="4.5"/><circle cx="1282.7" cy="389.1" r="4.5"/><circle cx="1283.6" cy="388.5" r="4.5"/><circle cx="1284.7" cy="389.1" r="4.5"/><circle cx="1286.1" cy="388.7" r="4.5"/><circle cx="1287.2" cy="390.5" r="4.5"/><circle cx="1288.4" cy="388.7" r="4.5"/><circle cx="1289.1" cy="388.5" r="4.5"/><circle cx="1290.0" cy="388.2" r="4.5"/><circle cx="1291.4" cy="387.9" r="4.5"/><circle cx="1292.7" cy="388.1" r="4.5"/><circle cx="1293.6" cy="387.8" r="4.5"/><circle cx="1294.5" cy="387.8" r="4.5"/><circle cx="1295.8" cy="387.6" r="4.5"/><circle cx="1297.1" cy="386.7" r="4.5"/><circle cx="1298.2" cy="387.4" r="4.5"/><circle cx="1299.1" cy="386.2" r="4.5"/><circle cx="1300.0" cy="387.5" r="4.5"/><circle cx="1301.6" cy="388.3" r="4.5"/><circle cx="1302.1" cy="386.6" r="4.5"/><circle cx="1303.6" cy="386.5" r="4.5"/><circle cx="1304.4" cy="388.3" r="4.5"/><circle cx="1305.9" cy="386.0" r="4.5"/><circle cx="1306.5" cy="385.1" r="4.5"/><circle cx="1308.0" cy="386.2" r="4.5"/><circle cx="1309.1" cy="384.9" r="4.5"/><circle cx="1309.8" cy="386.2" r="4.5"/><circle cx="1311.4" cy="384.2" r="4.5"/><circle cx="1312.5" cy="385.3" r="4.5"/><circle cx="1313.2" cy="385.3" r="4.5"/><circle cx="1314.5" cy="385.9" r="4.5"/><circle cx="1315.7" cy="385.1" r="4.5"/><circle cx="1316.8" cy="383.5" r="4.5"/><circle cx="1317.8" cy="384.6" r="4.5"/><circle cx="1318.8" cy="384.3" r="4.5"/><circle cx="1320.2" cy="385.4" r="4.5"/><circle cx="1321.2" cy="383.5" r="4.5"/><circle cx="1321.9" cy="383.5" r="4.5"/><circle cx="1323.6" cy="383.9" r="4.5"/><circle cx="1324.5" cy="383.2" r="4.5"/><circle cx="1325.4" cy="382.3" r="4.5"/><circle cx="1326.5" cy="382.4" r="4.5"/><circle cx="1327.9" cy="383.0" r="4.5"/><circle cx="1328.9" cy="382.8" r="4.5"/><circle cx="1329.7" cy="381.9" r="4.5"/><circle cx="1331.0" cy="382.4" r="4.5"/><circle cx="1332.3" cy="382.5" r="4.5"/><circle cx="1332.9" cy="380.6" r="4.5"/><circle cx="1334.3" cy="380.9" r="4.5"/><circle cx="1335.3" cy="380.4" r="4.5"/><circle cx="1336.5" cy="380.5" r="4.5"/><circle cx="1337.4" cy="382.1" r="4.5"/><circle cx="1338.5" cy="381.9" r="4.5"/><circle cx="1339.9" cy="380.1" r="4.5"/><circle cx="1340.8" cy="382.2" r="4.5"/><circle cx="1349.0" cy="383.0" r="4.5"/><circle cx="1357.2" cy="382.7" r="4.5"/><circle cx="1368.3" cy="382.3" r="4.5"/><circle cx="1373.8" cy="382.3" r="4.5"/><circle cx="1389.8" cy="381.6" r="4.5"/><circle cx="1401.2" cy="381.9" r="4.5"/><circle cx="1421.0" cy="381.8" r="4.5"/><circle cx="1443.0" cy="381.8" r="4.5"/><circle cx="1473.1" cy="378.6" r="4.5"/><circle cx="1511.9" cy="378.6" r="4.5"/><circle cx="1562.7" cy="378.6" r="4.5"/><circle cx="1571.1" cy="378.6" r="4.5"/><circle cx="1578.1" cy="378.6" r="4.5"/><circle cx="1589.0" cy="378.6" r="4.5"/><circle cx="1598.4" cy="378.6" r="4.5"/><circle cx="1610.0" cy="378.6" r="4.5"/><circle cx="1621.5" cy="378.6" r="4.5"/><circle cx="1633.1" cy="377.1" r="4.5"/><circle cx="1645.7" cy="376.5" r="4.5"/><circle cx="1657.2" cy="376.5" r="4.5"/><circle cx="1672.0" cy="375.0" r="4.5"/><circle cx="1685.2" cy="372.5" r="4.5"/><circle cx="1698.2" cy="371.9" r="4.5"/><circle cx="1711.8" cy="371.3" r="4.5"/><circle cx="1724.9" cy="371.9" r="4.5"/><circle cx="1736.0" cy="371.3" r="4.5"/><circle cx="1747.5" cy="370.2" r="4.5"/><circle cx="1755.9" cy="369.8" r="4.5"/></g>
<path d="M1149.8 362.2 L1150.7 368.9 L1151.7 365.9 L1153.0 361.4 L1153.7 358.1 L1154.7 360.1 L1155.1 356.7 L1156.1 357.8 L1157.5 357.4 L1158.0 357.4 L1159.2 354.7 L1159.7 358.0 L1161.1 358.5 L1161.9 353.6 L1162.5 354.7 L1163.3 352.4 L1164.1 353.7 L1165.4 355.9 L1166.3 350.4 L1167.3 349.3 L1168.2 350.1 L1169.2 349.0 L1169.5 350.2 L1170.6 349.0 L1171.4 338.8 L1172.7 342.5 L1173.3 350.0 L1174.5 345.1 L1175.0 345.4 L1176.4 343.2 L1176.7 347.6 L1177.8 346.2 L1178.7 343.3 L1179.4 343.8 L1180.8 342.2 L1181.6 339.0 L1182.2 339.6 L1183.5 342.7 L1184.2 339.7 L1185.4 343.1 L1185.9 337.9 L1186.8 331.7 L1187.8 335.5 L1188.4 333.0 L1189.7 328.3 L1190.3 327.6 L1191.5 333.0 L1192.3 331.3 L1193.3 325.6 L1194.3 325.6 L1194.9 325.3 L1196.1 326.0 L1197.0 323.9 L1197.6 326.4 L1198.8 320.0 L1199.4 324.6 L1200.4 321.2 L1201.1 318.8 L1202.1 317.5 L1203.1 317.3 L1204.2 317.1 L1204.9 313.4 L1205.6 312.3 L1206.7 311.6 L1207.8 310.1 L1208.3 313.1 L1209.4 311.3 L1210.1 304.6 L1211.3 306.3 L1212.3 303.6 L1213.2 305.2 L1214.0 303.9 L1214.7 302.3 L1215.9 304.6 L1216.5 301.3 L1217.3 302.1 L1218.6 299.7 L1219.4 301.1 L1219.9 300.5 L1221.1 297.3 L1221.7 298.5 L1222.8 296.9 L1223.6 299.4 L1224.6 292.9 L1225.7 294.4 L1226.2 293.3 L1227.7 291.6 L1228.6 296.5 L1229.3 291.5 L1230.0 291.6 L1230.8 291.0 L1231.9 288.8 L1232.7 288.1 L1233.8 285.6 L1234.7 284.9 L1235.6 285.2 L1236.9 281.6 L1240.1 282.8 L1241.6 282.8 L1245.2 275.6 L1247.8 276.1 L1250.5 274.6 L1252.5 270.6 L1254.9 268.3 L1257.5 264.8 L1260.8 264.5 L1263.6 261.5 L1265.9 259.8 L1267.7 257.2 L1271.3 255.0 L1273.9 253.7 L1276.5 250.9 L1278.8 249.6 L1281.4 247.8 L1283.1 245.7 L1286.2 243.8 L1292.1 240.0 L1294.7 238.1 L1299.8 234.6 L1304.8 227.6 L1309.1 225.4 L1312.3 222.3 L1317.5 219.9 L1321.0 215.9 L1325.6 213.0 L1329.0 211.7 L1334.1 204.7 L1337.9 203.4 L1341.2 199.5 L1346.5 198.5 L1359.5 183.4 L1367.5 185.6 L1377.0 178.0 L1385.0 173.9 L1394.5 164.3 L1407.7 159.0 L1420.1 150.0 L1436.7 141.9 L1453.9 135.5 L1476.8 130.0 L1503.1 126.1 L1534.9 118.1 L1575.0 112.9 L1600.0 110.6 L1684.0 104.6 L1712.0 104.6 L1733.0 104.6" fill="none" stroke="#1f77b4" stroke-width="2.6" stroke-dasharray="2.6 8.3"/>
<g fill="#1f77b4"><circle cx="1149.8" cy="362.2" r="4.5"/><circle cx="1150.7" cy="368.9" r="4.5"/><circle cx="1151.7" cy="365.9" r="4.5"/><circle cx="1153.0" cy="361.4" r="4.5"/><circle cx="1153.7" cy="358.1" r="4.5"/><circle cx="1154.7" cy="360.1" r="4.5"/><circle cx="1155.1" cy="356.7" r="4.5"/><circle cx="1156.1" cy="357.8" r="4.5"/><circle cx="1157.5" cy="357.4" r="4.5"/><circle cx="1158.0" cy="357.4" r="4.5"/><circle cx="1159.2" cy="354.7" r="4.5"/><circle cx="1159.7" cy="358.0" r="4.5"/><circle cx="1161.1" cy="358.5" r="4.5"/><circle cx="1161.9" cy="353.6" r="4.5"/><circle cx="1162.5" cy="354.7" r="4.5"/><circle cx="1163.3" cy="352.4" r="4.5"/><circle cx="1164.1" cy="353.7" r="4.5"/><circle cx="1165.4" cy="355.9" r="4.5"/><circle cx="1166.3" cy="350.4" r="4.5"/><circle cx="1167.3" cy="349.3" r="4.5"/><circle cx="1168.2" cy="350.1" r="4.5"/><circle cx="1169.2" cy="349.0" r="4.5"/><circle cx="1169.5" cy="350.2" r="4.5"/><circle cx="1170.6" cy="349.0" r="4.5"/><circle cx="1171.4" cy="338.8" r="4.5"/><circle cx="1172.7" cy="342.5" r="4.5"/><circle cx="1173.3" cy="350.0" r="4.5"/><circle cx="1174.5" cy="345.1" r="4.5"/><circle cx="1175.0" cy="345.4" r="4.5"/><circle cx="1176.4" cy="343.2" r="4.5"/><circle cx="1176.7" cy="347.6" r="4.5"/><circle cx="1177.8" cy="346.2" r="4.5"/><circle cx="1178.7" cy="343.3" r="4.5"/><circle cx="1179.4" cy="343.8" r="4.5"/><circle cx="1180.8" cy="342.2" r="4.5"/><circle cx="1181.6" cy="339.0" r="4.5"/><circle cx="1182.2" cy="339.6" r="4.5"/><circle cx="1183.5" cy="342.7" r="4.5"/><circle cx="1184.2" cy="339.7" r="4.5"/><circle cx="1185.4" cy="343.1" r="4.5"/><circle cx="1185.9" cy="337.9" r="4.5"/><circle cx="1186.8" cy="331.7" r="4.5"/><circle cx="1187.8" cy="335.5" r="4.5"/><circle cx="1188.4" cy="333.0" r="4.5"/><circle cx="1189.7" cy="328.3" r="4.5"/><circle cx="1190.3" cy="327.6" r="4.5"/><circle cx="1191.5" cy="333.0" r="4.5"/><circle cx="1192.3" cy="331.3" r="4.5"/><circle cx="1193.3" cy="325.6" r="4.5"/><circle cx="1194.3" cy="325.6" r="4.5"/><circle cx="1194.9" cy="325.3" r="4.5"/><circle cx="1196.1" cy="326.0" r="4.5"/><circle cx="1197.0" cy="323.9" r="4.5"/><circle cx="1197.6" cy="326.4" r="4.5"/><circle cx="1198.8" cy="320.0" r="4.5"/><circle cx="1199.4" cy="324.6" r="4.5"/><circle cx="1200.4" cy="321.2" r="4.5"/><circle cx="1201.1" cy="318.8" r="4.5"/><circle cx="1202.1" cy="317.5" r="4.5"/><circle cx="1203.1" cy="317.3" r="4.5"/><circle cx="1204.2" cy="317.1" r="4.5"/><circle cx="1204.9" cy="313.4" r="4.5"/><circle cx="1205.6" cy="312.3" r="4.5"/><circle cx="1206.7" cy="311.6" r="4.5"/><circle cx="1207.8" cy="310.1" r="4.5"/><circle cx="1208.3" cy="313.1" r="4.5"/><circle cx="1209.4" cy="311.3" r="4.5"/><circle cx="1210.1" cy="304.6" r="4.5"/><circle cx="1211.3" cy="306.3" r="4.5"/><circle cx="1212.3" cy="303.6" r="4.5"/><circle cx="1213.2" cy="305.2" r="4.5"/><circle cx="1214.0" cy="303.9" r="4.5"/><circle cx="1214.7" cy="302.3" r="4.5"/><circle cx="1215.9" cy="304.6" r="4.5"/><circle cx="1216.5" cy="301.3" r="4.5"/><circle cx="1217.3" cy="302.1" r="4.5"/><circle cx="1218.6" cy="299.7" r="4.5"/><circle cx="1219.4" cy="301.1" r="4.5"/><circle cx="1219.9" cy="300.5" r="4.5"/><circle cx="1221.1" cy="297.3" r="4.5"/><circle cx="1221.7" cy="298.5" r="4.5"/><circle cx="1222.8" cy="296.9" r="4.5"/><circle cx="1223.6" cy="299.4" r="4.5"/><circle cx="1224.6" cy="292.9" r="4.5"/><circle cx="1225.7" cy="294.4" r="4.5"/><circle cx="1226.2" cy="293.3" r="4.5"/><circle cx="1227.7" cy="291.6" r="4.5"/><circle cx="1228.6" cy="296.5" r="4.5"/><circle cx="1229.3" cy="291.5" r="4.5"/><circle cx="1230.0" cy="291.6" r="4.5"/><circle cx="1230.8" cy="291.0" r="4.5"/><circle cx="1231.9" cy="288.8" r="4.5"/><circle cx="1232.7" cy="288.1" r="4.5"/><circle cx="1233.8" cy="285.6" r="4.5"/><circle cx="1234.7" cy="284.9" r="4.5"/><circle cx="1235.6" cy="285.2" r="4.5"/><circle cx="1236.9" cy="281.6" r="4.5"/><circle cx="1240.1" cy="282.8" r="4.5"/><circle cx="1241.6" cy="282.8" r="4.5"/><circle cx="1245.2" cy="275.6" r="4.5"/><circle cx="1247.8" cy="276.1" r="4.5"/><circle cx="1250.5" cy="274.6" r="4.5"/><circle cx="1252.5" cy="270.6" r="4.5"/><circle cx="1254.9" cy="268.3" r="4.5"/><circle cx="1257.5" cy="264.8" r="4.5"/><circle cx="1260.8" cy="264.5" r="4.5"/><circle cx="1263.6" cy="261.5" r="4.5"/><circle cx="1265.9" cy="259.8" r="4.5"/><circle cx="1267.7" cy="257.2" r="4.5"/><circle cx="1271.3" cy="255.0" r="4.5"/><circle cx="1273.9" cy="253.7" r="4.5"/><circle cx="1276.5" cy="250.9" r="4.5"/><circle cx="1278.8" cy="249.6" r="4.5"/><circle cx="1281.4" cy="247.8" r="4.5"/><circle cx="1283.1" cy="245.7" r="4.5"/><circle cx="1286.2" cy="243.8" r="4.5"/><circle cx="1292.1" cy="240.0" r="4.5"/><circle cx="1294.7" cy="238.1" r="4.5"/><circle cx="1299.8" cy="234.6" r="4.5"/><circle cx="1304.8" cy="227.6" r="4.5"/><circle cx="1309.1" cy="225.4" r="4.5"/><circle cx="1312.3" cy="222.3" r="4.5"/><circle cx="1317.5" cy="219.9" r="4.5"/><circle cx="1321.0" cy="215.9" r="4.5"/><circle cx="1325.6" cy="213.0" r="4.5"/><circle cx="1329.0" cy="211.7" r="4.5"/><circle cx="1334.1" cy="204.7" r="4.5"/><circle cx="1337.9" cy="203.4" r="4.5"/><circle cx="1341.2" cy="199.5" r="4.5"/><circle cx="1346.5" cy="198.5" r="4.5"/><circle cx="1359.5" cy="183.4" r="4.5"/><circle cx="1367.5" cy="185.6" r="4.5"/><circle cx="1377.0" cy="178.0" r="4.5"/><circle cx="1385.0" cy="173.9" r="4.5"/><circle cx="1394.5" cy="164.3" r="4.5"/><circle cx="1407.7" cy="159.0" r="4.5"/><circle cx="1420.1" cy="150.0" r="4.5"/><circle cx="1436.7" cy="141.9" r="4.5"/><circle cx="1453.9" cy="135.5" r="4.5"/><circle cx="1476.8" cy="130.0" r="4.5"/><circle cx="1503.1" cy="126.1" r="4.5"/><circle cx="1534.9" cy="118.1" r="4.5"/><circle cx="1575.0" cy="112.9" r="4.5"/></g>
<path d="M1601 111 Q 1645 104.5 1683.5 104.4" fill="none" stroke="#1f77b4" stroke-width="10" stroke-linecap="round"/>
<path d="M1713.5 104.7 L1730.5 104.7" fill="none" stroke="#1f77b4" stroke-width="10" stroke-linecap="round"/>
<path d="M1148.3 372.9 L1148.7 376.9 L1149.7 367.7 L1150.7 369.9 L1151.9 370.1 L1152.4 361.2 L1153.6 365.8 L1154.3 368.1 L1155.2 362.1 L1156.0 365.0 L1156.9 370.6 L1157.8 368.3 L1158.6 364.5 L1159.8 364.6 L1160.6 367.2 L1161.6 363.7 L1162.6 364.7 L1163.0 365.8 L1164.5 367.7 L1165.4 364.7 L1165.7 365.2 L1166.8 365.9 L1168.1 364.7 L1169.0 364.9 L1169.4 368.2 L1170.5 368.2 L1171.6 365.7 L1172.0 365.5 L1173.3 365.2 L1174.1 367.1 L1175.1 363.9 L1175.7 366.3 L1176.7 365.7 L1177.7 367.3 L1178.3 365.8 L1179.4 363.1 L1180.4 364.4 L1181.3 364.2 L1182.1 361.9 L1182.8 362.7 L1184.0 361.3 L1184.8 360.5 L1185.8 364.4 L1186.6 360.9 L1187.3 363.5 L1188.4 361.9 L1189.5 365.0 L1190.4 363.8 L1191.1 363.8 L1191.8 364.6 L1193.0 363.1 L1194.1 360.8 L1195.0 362.9 L1195.5 363.5 L1196.7 362.5 L1197.8 363.0 L1198.3 360.1 L1199.1 362.7 L1199.9 366.1 L1200.9 360.3 L1201.9 360.2 L1202.6 366.6 L1203.9 362.9 L1204.8 364.8 L1205.7 363.5 L1206.6 358.4 L1207.2 363.8 L1208.1 361.3 L1209.1 359.4 L1210.3 361.7 L1211.0 361.0 L1212.1 360.9 L1212.8 357.6 L1213.8 363.7 L1214.7 359.1 L1215.5 359.9 L1216.6 357.6 L1217.3 357.8 L1217.9 359.0 L1219.2 358.9 L1219.9 357.5 L1221.1 358.3 L1222.0 357.0 L1222.6 357.0 L1223.4 356.7 L1224.3 356.3 L1225.7 355.8 L1226.0 356.9 L1227.5 357.5 L1228.2 357.0 L1228.8 358.2 L1230.0 356.1 L1231.0 356.4 L1231.5 355.4 L1232.7 355.9 L1233.4 356.5 L1234.4 355.8 L1235.3 354.7 L1236.3 354.5 L1237.1 354.7 L1238.0 354.1 L1238.7 353.9 L1240.0 354.7 L1240.9 353.3 L1241.6 353.6 L1242.7 354.3 L1243.3 352.4 L1244.3 354.1 L1244.9 352.7 L1246.2 352.2 L1246.8 352.9 L1248.0 352.5 L1248.8 352.5 L1250.0 353.6 L1250.8 352.4 L1251.3 350.8 L1252.7 351.0 L1253.3 351.3 L1254.1 350.8 L1255.0 349.4 L1255.8 349.4 L1256.9 348.8 L1257.9 347.9 L1258.6 348.6 L1259.5 348.0 L1260.7 348.2 L1261.4 348.2 L1262.1 347.5 L1263.0 349.0 L1264.2 347.0 L1265.3 347.6 L1265.7 347.2 L1266.8 347.2 L1267.9 348.0 L1268.6 346.0 L1269.5 347.2 L1270.7 345.6 L1271.6 346.7 L1272.0 345.2 L1273.3 345.7 L1274.1 345.2 L1274.7 345.3 L1275.5 346.2 L1276.5 346.1 L1277.5 345.1 L1278.7 344.4 L1279.1 345.5 L1280.4 343.6 L1281.0 343.3 L1282.1 344.1 L1283.0 343.9 L1283.6 344.1 L1284.7 343.7 L1285.4 345.7 L1286.4 342.7 L1287.7 342.6 L1288.6 342.2 L1289.1 343.3 L1290.1 341.8 L1290.8 341.3 L1292.0 341.7 L1293.1 341.1 L1293.5 341.7 L1294.6 339.6 L1295.7 341.6 L1296.4 341.0 L1297.2 340.3 L1298.4 339.8 L1299.3 340.4 L1299.9 339.7 L1300.7 340.1 L1301.9 341.1 L1302.6 339.6 L1304.0 340.3 L1304.8 339.8 L1305.6 338.7 L1306.5 340.1 L1307.2 339.5 L1307.9 338.1 L1309.3 338.9 L1309.8 340.1 L1310.6 339.2 L1311.9 338.9 L1312.6 337.9 L1313.3 338.1 L1314.5 338.0 L1315.3 336.9 L1316.0 335.9 L1317.3 338.1 L1318.2 336.0 L1319.1 335.0 L1320.2 333.9 L1321.1 336.9 L1321.5 335.4 L1322.6 334.5 L1323.6 334.0 L1324.6 335.4 L1325.5 334.0 L1325.9 333.1 L1326.9 334.2 L1327.8 333.7 L1328.7 333.0 L1329.9 332.7 L1330.5 332.6 L1333.3 332.6 L1336.7 331.5 L1339.8 330.5 L1343.1 331.5 L1346.3 331.0 L1348.7 329.2 L1352.1 328.4 L1354.9 328.4 L1357.5 326.4 L1361.4 326.6 L1364.7 326.8 L1367.7 325.1 L1370.3 323.4 L1373.2 323.6 L1375.3 323.6 L1378.6 323.8 L1381.8 322.2 L1385.2 322.0 L1387.5 323.3 L1391.6 324.1 L1394.7 322.5 L1396.8 321.6 L1399.9 322.3 L1402.9 321.8 L1405.6 321.6 L1408.9 319.6 L1411.9 321.8 L1417.2 318.8 L1429.0 318.5 L1444.7 318.3 L1499.3 318.3 L1527.0 318.3 L1578.1 318.3 L1672.4 318.3 L1775.9 318.3 L1803.2 318.3" fill="none" stroke="#000000" stroke-width="2.6" stroke-dasharray="2.6 8.3"/>
<g fill="#000000"><circle cx="1148.3" cy="372.9" r="4.7"/><circle cx="1148.7" cy="376.9" r="4.7"/><circle cx="1149.7" cy="367.7" r="4.7"/><circle cx="1150.7" cy="369.9" r="4.7"/><circle cx="1151.9" cy="370.1" r="4.7"/><circle cx="1152.4" cy="361.2" r="4.7"/><circle cx="1153.6" cy="365.8" r="4.7"/><circle cx="1154.3" cy="368.1" r="4.7"/><circle cx="1155.2" cy="362.1" r="4.7"/><circle cx="1156.0" cy="365.0" r="4.7"/><circle cx="1156.9" cy="370.6" r="4.7"/><circle cx="1157.8" cy="368.3" r="4.7"/><circle cx="1158.6" cy="364.5" r="4.7"/><circle cx="1159.8" cy="364.6" r="4.7"/><circle cx="1160.6" cy="367.2" r="4.7"/><circle cx="1161.6" cy="363.7" r="4.7"/><circle cx="1162.6" cy="364.7" r="4.7"/><circle cx="1163.0" cy="365.8" r="4.7"/><circle cx="1164.5" cy="367.7" r="4.7"/><circle cx="1165.4" cy="364.7" r="4.7"/><circle cx="1165.7" cy="365.2" r="4.7"/><circle cx="1166.8" cy="365.9" r="4.7"/><circle cx="1168.1" cy="364.7" r="4.7"/><circle cx="1169.0" cy="364.9" r="4.7"/><circle cx="1169.4" cy="368.2" r="4.7"/><circle cx="1170.5" cy="368.2" r="4.7"/><circle cx="1171.6" cy="365.7" r="4.7"/><circle cx="1172.0" cy="365.5" r="4.7"/><circle cx="1173.3" cy="365.2" r="4.7"/><circle cx="1174.1" cy="367.1" r="4.7"/><circle cx="1175.1" cy="363.9" r="4.7"/><circle cx="1175.7" cy="366.3" r="4.7"/><circle cx="1176.7" cy="365.7" r="4.7"/><circle cx="1177.7" cy="367.3" r="4.7"/><circle cx="1178.3" cy="365.8" r="4.7"/><circle cx="1179.4" cy="363.1" r="4.7"/><circle cx="1180.4" cy="364.4" r="4.7"/><circle cx="1181.3" cy="364.2" r="4.7"/><circle cx="1182.1" cy="361.9" r="4.7"/><circle cx="1182.8" cy="362.7" r="4.7"/><circle cx="1184.0" cy="361.3" r="4.7"/><circle cx="1184.8" cy="360.5" r="4.7"/><circle cx="1185.8" cy="364.4" r="4.7"/><circle cx="1186.6" cy="360.9" r="4.7"/><circle cx="1187.3" cy="363.5" r="4.7"/><circle cx="1188.4" cy="361.9" r="4.7"/><circle cx="1189.5" cy="365.0" r="4.7"/><circle cx="1190.4" cy="363.8" r="4.7"/><circle cx="1191.1" cy="363.8" r="4.7"/><circle cx="1191.8" cy="364.6" r="4.7"/><circle cx="1193.0" cy="363.1" r="4.7"/><circle cx="1194.1" cy="360.8" r="4.7"/><circle cx="1195.0" cy="362.9" r="4.7"/><circle cx="1195.5" cy="363.5" r="4.7"/><circle cx="1196.7" cy="362.5" r="4.7"/><circle cx="1197.8" cy="363.0" r="4.7"/><circle cx="1198.3" cy="360.1" r="4.7"/><circle cx="1199.1" cy="362.7" r="4.7"/><circle cx="1199.9" cy="366.1" r="4.7"/><circle cx="1200.9" cy="360.3" r="4.7"/><circle cx="1201.9" cy="360.2" r="4.7"/><circle cx="1202.6" cy="366.6" r="4.7"/><circle cx="1203.9" cy="362.9" r="4.7"/><circle cx="1204.8" cy="364.8" r="4.7"/><circle cx="1205.7" cy="363.5" r="4.7"/><circle cx="1206.6" cy="358.4" r="4.7"/><circle cx="1207.2" cy="363.8" r="4.7"/><circle cx="1208.1" cy="361.3" r="4.7"/><circle cx="1209.1" cy="359.4" r="4.7"/><circle cx="1210.3" cy="361.7" r="4.7"/><circle cx="1211.0" cy="361.0" r="4.7"/><circle cx="1212.1" cy="360.9" r="4.7"/><circle cx="1212.8" cy="357.6" r="4.7"/><circle cx="1213.8" cy="363.7" r="4.7"/><circle cx="1214.7" cy="359.1" r="4.7"/><circle cx="1215.5" cy="359.9" r="4.7"/><circle cx="1216.6" cy="357.6" r="4.7"/><circle cx="1217.3" cy="357.8" r="4.7"/><circle cx="1217.9" cy="359.0" r="4.7"/><circle cx="1219.2" cy="358.9" r="4.7"/><circle cx="1219.9" cy="357.5" r="4.7"/><circle cx="1221.1" cy="358.3" r="4.7"/><circle cx="1222.0" cy="357.0" r="4.7"/><circle cx="1222.6" cy="357.0" r="4.7"/><circle cx="1223.4" cy="356.7" r="4.7"/><circle cx="1224.3" cy="356.3" r="4.7"/><circle cx="1225.7" cy="355.8" r="4.7"/><circle cx="1226.0" cy="356.9" r="4.7"/><circle cx="1227.5" cy="357.5" r="4.7"/><circle cx="1228.2" cy="357.0" r="4.7"/><circle cx="1228.8" cy="358.2" r="4.7"/><circle cx="1230.0" cy="356.1" r="4.7"/><circle cx="1231.0" cy="356.4" r="4.7"/><circle cx="1231.5" cy="355.4" r="4.7"/><circle cx="1232.7" cy="355.9" r="4.7"/><circle cx="1233.4" cy="356.5" r="4.7"/><circle cx="1234.4" cy="355.8" r="4.7"/><circle cx="1235.3" cy="354.7" r="4.7"/><circle cx="1236.3" cy="354.5" r="4.7"/><circle cx="1237.1" cy="354.7" r="4.7"/><circle cx="1238.0" cy="354.1" r="4.7"/><circle cx="1238.7" cy="353.9" r="4.7"/><circle cx="1240.0" cy="354.7" r="4.7"/><circle cx="1240.9" cy="353.3" r="4.7"/><circle cx="1241.6" cy="353.6" r="4.7"/><circle cx="1242.7" cy="354.3" r="4.7"/><circle cx="1243.3" cy="352.4" r="4.7"/><circle cx="1244.3" cy="354.1" r="4.7"/><circle cx="1244.9" cy="352.7" r="4.7"/><circle cx="1246.2" cy="352.2" r="4.7"/><circle cx="1246.8" cy="352.9" r="4.7"/><circle cx="1248.0" cy="352.5" r="4.7"/><circle cx="1248.8" cy="352.5" r="4.7"/><circle cx="1250.0" cy="353.6" r="4.7"/><circle cx="1250.8" cy="352.4" r="4.7"/><circle cx="1251.3" cy="350.8" r="4.7"/><circle cx="1252.7" cy="351.0" r="4.7"/><circle cx="1253.3" cy="351.3" r="4.7"/><circle cx="1254.1" cy="350.8" r="4.7"/><circle cx="1255.0" cy="349.4" r="4.7"/><circle cx="1255.8" cy="349.4" r="4.7"/><circle cx="1256.9" cy="348.8" r="4.7"/><circle cx="1257.9" cy="347.9" r="4.7"/><circle cx="1258.6" cy="348.6" r="4.7"/><circle cx="1259.5" cy="348.0" r="4.7"/><circle cx="1260.7" cy="348.2" r="4.7"/><circle cx="1261.4" cy="348.2" r="4.7"/><circle cx="1262.1" cy="347.5" r="4.7"/><circle cx="1263.0" cy="349.0" r="4.7"/><circle cx="1264.2" cy="347.0" r="4.7"/><circle cx="1265.3" cy="347.6" r="4.7"/><circle cx="1265.7" cy="347.2" r="4.7"/><circle cx="1266.8" cy="347.2" r="4.7"/><circle cx="1267.9" cy="348.0" r="4.7"/><circle cx="1268.6" cy="346.0" r="4.7"/><circle cx="1269.5" cy="347.2" r="4.7"/><circle cx="1270.7" cy="345.6" r="4.7"/><circle cx="1271.6" cy="346.7" r="4.7"/><circle cx="1272.0" cy="345.2" r="4.7"/><circle cx="1273.3" cy="345.7" r="4.7"/><circle cx="1274.1" cy="345.2" r="4.7"/><circle cx="1274.7" cy="345.3" r="4.7"/><circle cx="1275.5" cy="346.2" r="4.7"/><circle cx="1276.5" cy="346.1" r="4.7"/><circle cx="1277.5" cy="345.1" r="4.7"/><circle cx="1278.7" cy="344.4" r="4.7"/><circle cx="1279.1" cy="345.5" r="4.7"/><circle cx="1280.4" cy="343.6" r="4.7"/><circle cx="1281.0" cy="343.3" r="4.7"/><circle cx="1282.1" cy="344.1" r="4.7"/><circle cx="1283.0" cy="343.9" r="4.7"/><circle cx="1283.6" cy="344.1" r="4.7"/><circle cx="1284.7" cy="343.7" r="4.7"/><circle cx="1285.4" cy="345.7" r="4.7"/><circle cx="1286.4" cy="342.7" r="4.7"/><circle cx="1287.7" cy="342.6" r="4.7"/><circle cx="1288.6" cy="342.2" r="4.7"/><circle cx="1289.1" cy="343.3" r="4.7"/><circle cx="1290.1" cy="341.8" r="4.7"/><circle cx="1290.8" cy="341.3" r="4.7"/><circle cx="1292.0" cy="341.7" r="4.7"/><circle cx="1293.1" cy="341.1" r="4.7"/><circle cx="1293.5" cy="341.7" r="4.7"/><circle cx="1294.6" cy="339.6" r="4.7"/><circle cx="1295.7" cy="341.6" r="4.7"/><circle cx="1296.4" cy="341.0" r="4.7"/><circle cx="1297.2" cy="340.3" r="4.7"/><circle cx="1298.4" cy="339.8" r="4.7"/><circle cx="1299.3" cy="340.4" r="4.7"/><circle cx="1299.9" cy="339.7" r="4.7"/><circle cx="1300.7" cy="340.1" r="4.7"/><circle cx="1301.9" cy="341.1" r="4.7"/><circle cx="1302.6" cy="339.6" r="4.7"/><circle cx="1304.0" cy="340.3" r="4.7"/><circle cx="1304.8" cy="339.8" r="4.7"/><circle cx="1305.6" cy="338.7" r="4.7"/><circle cx="1306.5" cy="340.1" r="4.7"/><circle cx="1307.2" cy="339.5" r="4.7"/><circle cx="1307.9" cy="338.1" r="4.7"/><circle cx="1309.3" cy="338.9" r="4.7"/><circle cx="1309.8" cy="340.1" r="4.7"/><circle cx="1310.6" cy="339.2" r="4.7"/><circle cx="1311.9" cy="338.9" r="4.7"/><circle cx="1312.6" cy="337.9" r="4.7"/><circle cx="1313.3" cy="338.1" r="4.7"/><circle cx="1314.5" cy="338.0" r="4.7"/><circle cx="1315.3" cy="336.9" r="4.7"/><circle cx="1316.0" cy="335.9" r="4.7"/><circle cx="1317.3" cy="338.1" r="4.7"/><circle cx="1318.2" cy="336.0" r="4.7"/><circle cx="1319.1" cy="335.0" r="4.7"/><circle cx="1320.2" cy="333.9" r="4.7"/><circle cx="1321.1" cy="336.9" r="4.7"/><circle cx="1321.5" cy="335.4" r="4.7"/><circle cx="1322.6" cy="334.5" r="4.7"/><circle cx="1323.6" cy="334.0" r="4.7"/><circle cx="1324.6" cy="335.4" r="4.7"/><circle cx="1325.5" cy="334.0" r="4.7"/><circle cx="1325.9" cy="333.1" r="4.7"/><circle cx="1326.9" cy="334.2" r="4.7"/><circle cx="1327.8" cy="333.7" r="4.7"/><circle cx="1328.7" cy="333.0" r="4.7"/><circle cx="1329.9" cy="332.7" r="4.7"/><circle cx="1330.5" cy="332.6" r="4.7"/><circle cx="1333.3" cy="332.6" r="4.7"/><circle cx="1336.7" cy="331.5" r="4.7"/><circle cx="1339.8" cy="330.5" r="4.7"/><circle cx="1343.1" cy="331.5" r="4.7"/><circle cx="1346.3" cy="331.0" r="4.7"/><circle cx="1348.7" cy="329.2" r="4.7"/><circle cx="1352.1" cy="328.4" r="4.7"/><circle cx="1354.9" cy="328.4" r="4.7"/><circle cx="1357.5" cy="326.4" r="4.7"/><circle cx="1361.4" cy="326.6" r="4.7"/><circle cx="1364.7" cy="326.8" r="4.7"/><circle cx="1367.7" cy="325.1" r="4.7"/><circle cx="1370.3" cy="323.4" r="4.7"/><circle cx="1373.2" cy="323.6" r="4.7"/><circle cx="1375.3" cy="323.6" r="4.7"/><circle cx="1378.6" cy="323.8" r="4.7"/><circle cx="1381.8" cy="322.2" r="4.7"/><circle cx="1385.2" cy="322.0" r="4.7"/><circle cx="1387.5" cy="323.3" r="4.7"/><circle cx="1391.6" cy="324.1" r="4.7"/><circle cx="1394.7" cy="322.5" r="4.7"/><circle cx="1396.8" cy="321.6" r="4.7"/><circle cx="1399.9" cy="322.3" r="4.7"/><circle cx="1402.9" cy="321.8" r="4.7"/><circle cx="1405.6" cy="321.6" r="4.7"/><circle cx="1408.9" cy="319.6" r="4.7"/><circle cx="1411.9" cy="321.8" r="4.7"/><circle cx="1151.8" cy="365.5" r="4.7"/><circle cx="1148.0" cy="368.8" r="4.7"/><circle cx="1147.4" cy="362.7" r="4.7"/><circle cx="1151.2" cy="370.9" r="4.7"/><circle cx="1147.9" cy="369.2" r="4.7"/><circle cx="1149.3" cy="371.9" r="4.7"/><circle cx="1153.9" cy="369.0" r="4.7"/><circle cx="1149.5" cy="366.1" r="4.7"/><circle cx="1148.3" cy="369.6" r="4.7"/><circle cx="1146.7" cy="365.3" r="4.7"/><circle cx="1153.5" cy="376.5" r="4.7"/><circle cx="1146.8" cy="364.6" r="4.7"/><circle cx="1148.0" cy="371.9" r="4.7"/><circle cx="1149.5" cy="366.4" r="4.7"/><circle cx="1145.1" cy="367.5" r="4.7"/><circle cx="1150.9" cy="368.1" r="4.7"/><circle cx="1145.4" cy="372.3" r="4.7"/><circle cx="1152.0" cy="369.9" r="4.7"/><circle cx="1148.8" cy="370.3" r="4.7"/><circle cx="1147.1" cy="365.5" r="4.7"/><circle cx="1152.4" cy="372.5" r="4.7"/><circle cx="1148.9" cy="369.0" r="4.7"/><circle cx="1153.0" cy="368.4" r="4.7"/><circle cx="1148.2" cy="374.5" r="4.7"/><circle cx="1147.5" cy="372.8" r="4.7"/><circle cx="1146.3" cy="370.1" r="4.7"/><circle cx="1151.5" cy="372.3" r="4.7"/><circle cx="1148.8" cy="366.2" r="4.7"/><circle cx="1150.3" cy="369.4" r="4.7"/><circle cx="1147.1" cy="370.5" r="4.7"/><circle cx="1145.8" cy="368.7" r="4.7"/><circle cx="1144.1" cy="367.9" r="4.7"/><circle cx="1145.0" cy="369.5" r="4.7"/><circle cx="1147.8" cy="366.2" r="4.7"/><circle cx="1151.1" cy="369.6" r="4.7"/><circle cx="1151.3" cy="373.5" r="4.7"/><circle cx="1149.4" cy="371.6" r="4.7"/><circle cx="1144.0" cy="370.8" r="4.7"/><circle cx="1146.7" cy="368.2" r="4.7"/><circle cx="1152.8" cy="376.5" r="4.7"/><circle cx="1417.2" cy="318.8" r="4.7"/><circle cx="1429.0" cy="318.5" r="4.7"/><circle cx="1444.7" cy="318.3" r="4.7"/><circle cx="1499.3" cy="318.3" r="4.7"/><circle cx="1527.0" cy="318.3" r="4.7"/><circle cx="1578.1" cy="318.3" r="4.7"/><circle cx="1672.4" cy="318.3" r="4.7"/><circle cx="1775.9" cy="318.3" r="4.7"/><circle cx="1803.2" cy="318.3" r="4.7"/></g>
</g>
<path d="M1741.8 68.2 L1741.8 59.9 M1741.8 68.2 L1749.7 65.6 M1741.8 68.2 L1746.7 74.9 M1741.8 68.2 L1736.9 74.9 M1741.8 68.2 L1733.9 65.6" stroke="#1f77b4" stroke-width="1.8" fill="none"/>
<polygon points="1812.0,62.4 1788.8,62.4 1788.8,55.2 1761.8,65.2 1788.8,75.2 1788.8,68.0 1812.0,68.0" fill="#1f77b4"/>
<path d="M1986.0 316.4 L1986.0 308.4 M1986.0 316.4 L1993.6 313.9 M1986.0 316.4 L1990.7 322.9 M1986.0 316.4 L1981.3 322.9 M1986.0 316.4 L1978.4 313.9" stroke="#000000" stroke-width="1.8" fill="none"/>
<polygon points="1932.1,271.5 1952.5,286.7 1948.2,292.5 1975.8,300.6 1960.1,276.4 1955.8,282.2 1935.5,267.1" fill="#000000"/>
<path d="M1888.9 368.2 L1888.9 360.1 M1888.9 368.2 L1896.6 365.7 M1888.9 368.2 L1893.7 374.8 M1888.9 368.2 L1884.1 374.8 M1888.9 368.2 L1881.2 365.7" stroke="#d62728" stroke-width="1.8" fill="none"/>
<polygon points="1822.5,399.1 1851.8,384.7 1855.0,391.1 1874.8,370.2 1846.2,373.2 1849.3,379.6 1820.1,394.1" fill="#d62728"/>
<text transform="translate(1873.30 64.70)" text-anchor="middle" font-family="'Liberation Serif', 'Times New Roman', serif" font-size="29.20" fill="#1f77b4">12 MB</text><text transform="translate(1873.30 97.10)" text-anchor="middle" font-family="'Liberation Serif', 'Times New Roman', serif" font-size="29.20" fill="#1f77b4">TPOT model</text><text transform="translate(1873.30 129.30)" text-anchor="middle" font-family="'Liberation Serif', 'Times New Roman', serif" font-size="29.20" fill="#1f77b4">93.95%</text>
<text transform="translate(1883.20 224.10)" text-anchor="middle" font-family="'Liberation Serif', 'Times New Roman', serif" font-size="29.20" fill="#000000">334.1 MB</text><text transform="translate(1883.20 255.90)" text-anchor="middle" font-family="'Liberation Serif', 'Times New Roman', serif" font-size="29.20" fill="#000000">TPOT model</text><text transform="translate(1883.20 288.40)" text-anchor="middle" font-family="'Liberation Serif', 'Times New Roman', serif" font-size="29.20" fill="#000000">90.05%</text>
<text transform="translate(1822.20 446.60)" text-anchor="middle" font-family="'Liberation Serif', 'Times New Roman', serif" font-size="29.20" fill="#d62728">87.1 MB</text><text transform="translate(1822.20 477.90)" text-anchor="middle" font-family="'Liberation Serif', 'Times New Roman', serif" font-size="29.20" fill="#d62728">TPOT model</text><text transform="translate(1822.20 510.00)" text-anchor="middle" font-family="'Liberation Serif', 'Times New Roman', serif" font-size="29.20" fill="#d62728">89.23%</text>
<rect x="1156.25" y="477" width="450" height="58" fill="#ffffff" stroke="#000" stroke-width="1.8"/>
<g fill="#1f77b4"><rect x="1169.9" y="504.6" width="2.8" height="2.8"/><rect x="1180.6" y="504.6" width="2.8" height="2.8"/><rect x="1191.3" y="504.6" width="2.8" height="2.8"/><rect x="1213.1" y="504.6" width="2.8" height="2.8"/><rect x="1223.9" y="504.6" width="2.8" height="2.8"/><rect x="1234.5" y="504.6" width="2.8" height="2.8"/><circle cx="1205.5" cy="506.0" r="4.7"/></g>
<g fill="#000000"><rect x="1298.6" y="504.6" width="2.8" height="2.8"/><rect x="1309.3" y="504.6" width="2.8" height="2.8"/><rect x="1320.0" y="504.6" width="2.8" height="2.8"/><rect x="1341.8" y="504.6" width="2.8" height="2.8"/><rect x="1352.6" y="504.6" width="2.8" height="2.8"/><rect x="1363.2" y="504.6" width="2.8" height="2.8"/><circle cx="1334.2" cy="506.0" r="4.7"/></g>
<g fill="#d62728"><rect x="1433.8" y="504.6" width="2.8" height="2.8"/><rect x="1444.5" y="504.6" width="2.8" height="2.8"/><rect x="1455.2" y="504.6" width="2.8" height="2.8"/><rect x="1477.0" y="504.6" width="2.8" height="2.8"/><rect x="1487.8" y="504.6" width="2.8" height="2.8"/><rect x="1498.4" y="504.6" width="2.8" height="2.8"/><circle cx="1469.4" cy="506.0" r="4.7"/></g>
<text transform="translate(1250.30 513.00) scale(0.9550 1)" font-family="'Liberation Serif', 'Times New Roman', serif" font-size="30.37" fill="#000">BC</text>
<text transform="translate(1378.30 513.00) scale(0.9550 1)" font-family="'Liberation Serif', 'Times New Roman', serif" font-size="30.37" fill="#000">MC</text>
<text transform="translate(1514.30 513.00) scale(0.9550 1)" font-family="'Liberation Serif', 'Times New Roman', serif" font-size="30.37" fill="#000">MMC</text>
<text transform="translate(1133.00 461.24) scale(0.9640 1)" text-anchor="end" font-family="'Liberation Serif', 'Times New Roman', serif" font-size="44.09" fill="#000">88</text>
<text transform="translate(1133.00 334.10) scale(0.9640 1)" text-anchor="end" font-family="'Liberation Serif', 'Times New Roman', serif" font-size="44.09" fill="#000">90</text>
<text transform="translate(1133.00 206.96) scale(0.9640 1)" text-anchor="end" font-family="'Liberation Serif', 'Times New Roman', serif" font-size="44.09" fill="#000">92</text>
<text transform="translate(1133.00 79.82) scale(0.9640 1)" text-anchor="end" font-family="'Liberation Serif', 'Times New Roman', serif" font-size="44.09" fill="#000">94</text>
<text transform="translate(1233.75 592.60) scale(0.9600 1)" text-anchor="middle" font-family="'Liberation Serif', 'Times New Roman', serif" font-size="42.71" fill="#000">10<tspan font-size="30.21" dy="-16">1</tspan></text>
<text transform="translate(1400.15 592.60) scale(0.9600 1)" text-anchor="middle" font-family="'Liberation Serif', 'Times New Roman', serif" font-size="42.71" fill="#000">10<tspan font-size="30.21" dy="-16">2</tspan></text>
<text transform="translate(1566.55 592.60) scale(0.9600 1)" text-anchor="middle" font-family="'Liberation Serif', 'Times New Roman', serif" font-size="42.71" fill="#000">10<tspan font-size="30.21" dy="-16">3</tspan></text>
<text transform="translate(1732.95 592.60) scale(0.9600 1)" text-anchor="middle" font-family="'Liberation Serif', 'Times New Roman', serif" font-size="42.71" fill="#000">10<tspan font-size="30.21" dy="-16">4</tspan></text>
<text transform="translate(1899.35 592.60) scale(0.9600 1)" text-anchor="middle" font-family="'Liberation Serif', 'Times New Roman', serif" font-size="42.71" fill="#000">10<tspan font-size="30.21" dy="-16">5</tspan></text>
<text transform="translate(1572.30 651.80) scale(0.9950 1)" text-anchor="middle" font-family="'Liberation Serif', 'Times New Roman', serif" font-size="42.05" fill="#000">Size of model [kB]</text>
<text transform="translate(1053.20 272.00) rotate(-90) scale(0.9835 1)" text-anchor="middle" font-family="'Liberation Serif', 'Times New Roman', serif" font-size="42.37" fill="#000">TUAR Test Accuracy [%]</text>
<text transform="translate(1573.70 716.60) scale(1.0300 1)" text-anchor="middle" font-weight="bold" font-family="'Liberation Serif', 'Times New Roman', serif" font-size="39.81" fill="#000">(b)</text>
</svg>
</body></html>
